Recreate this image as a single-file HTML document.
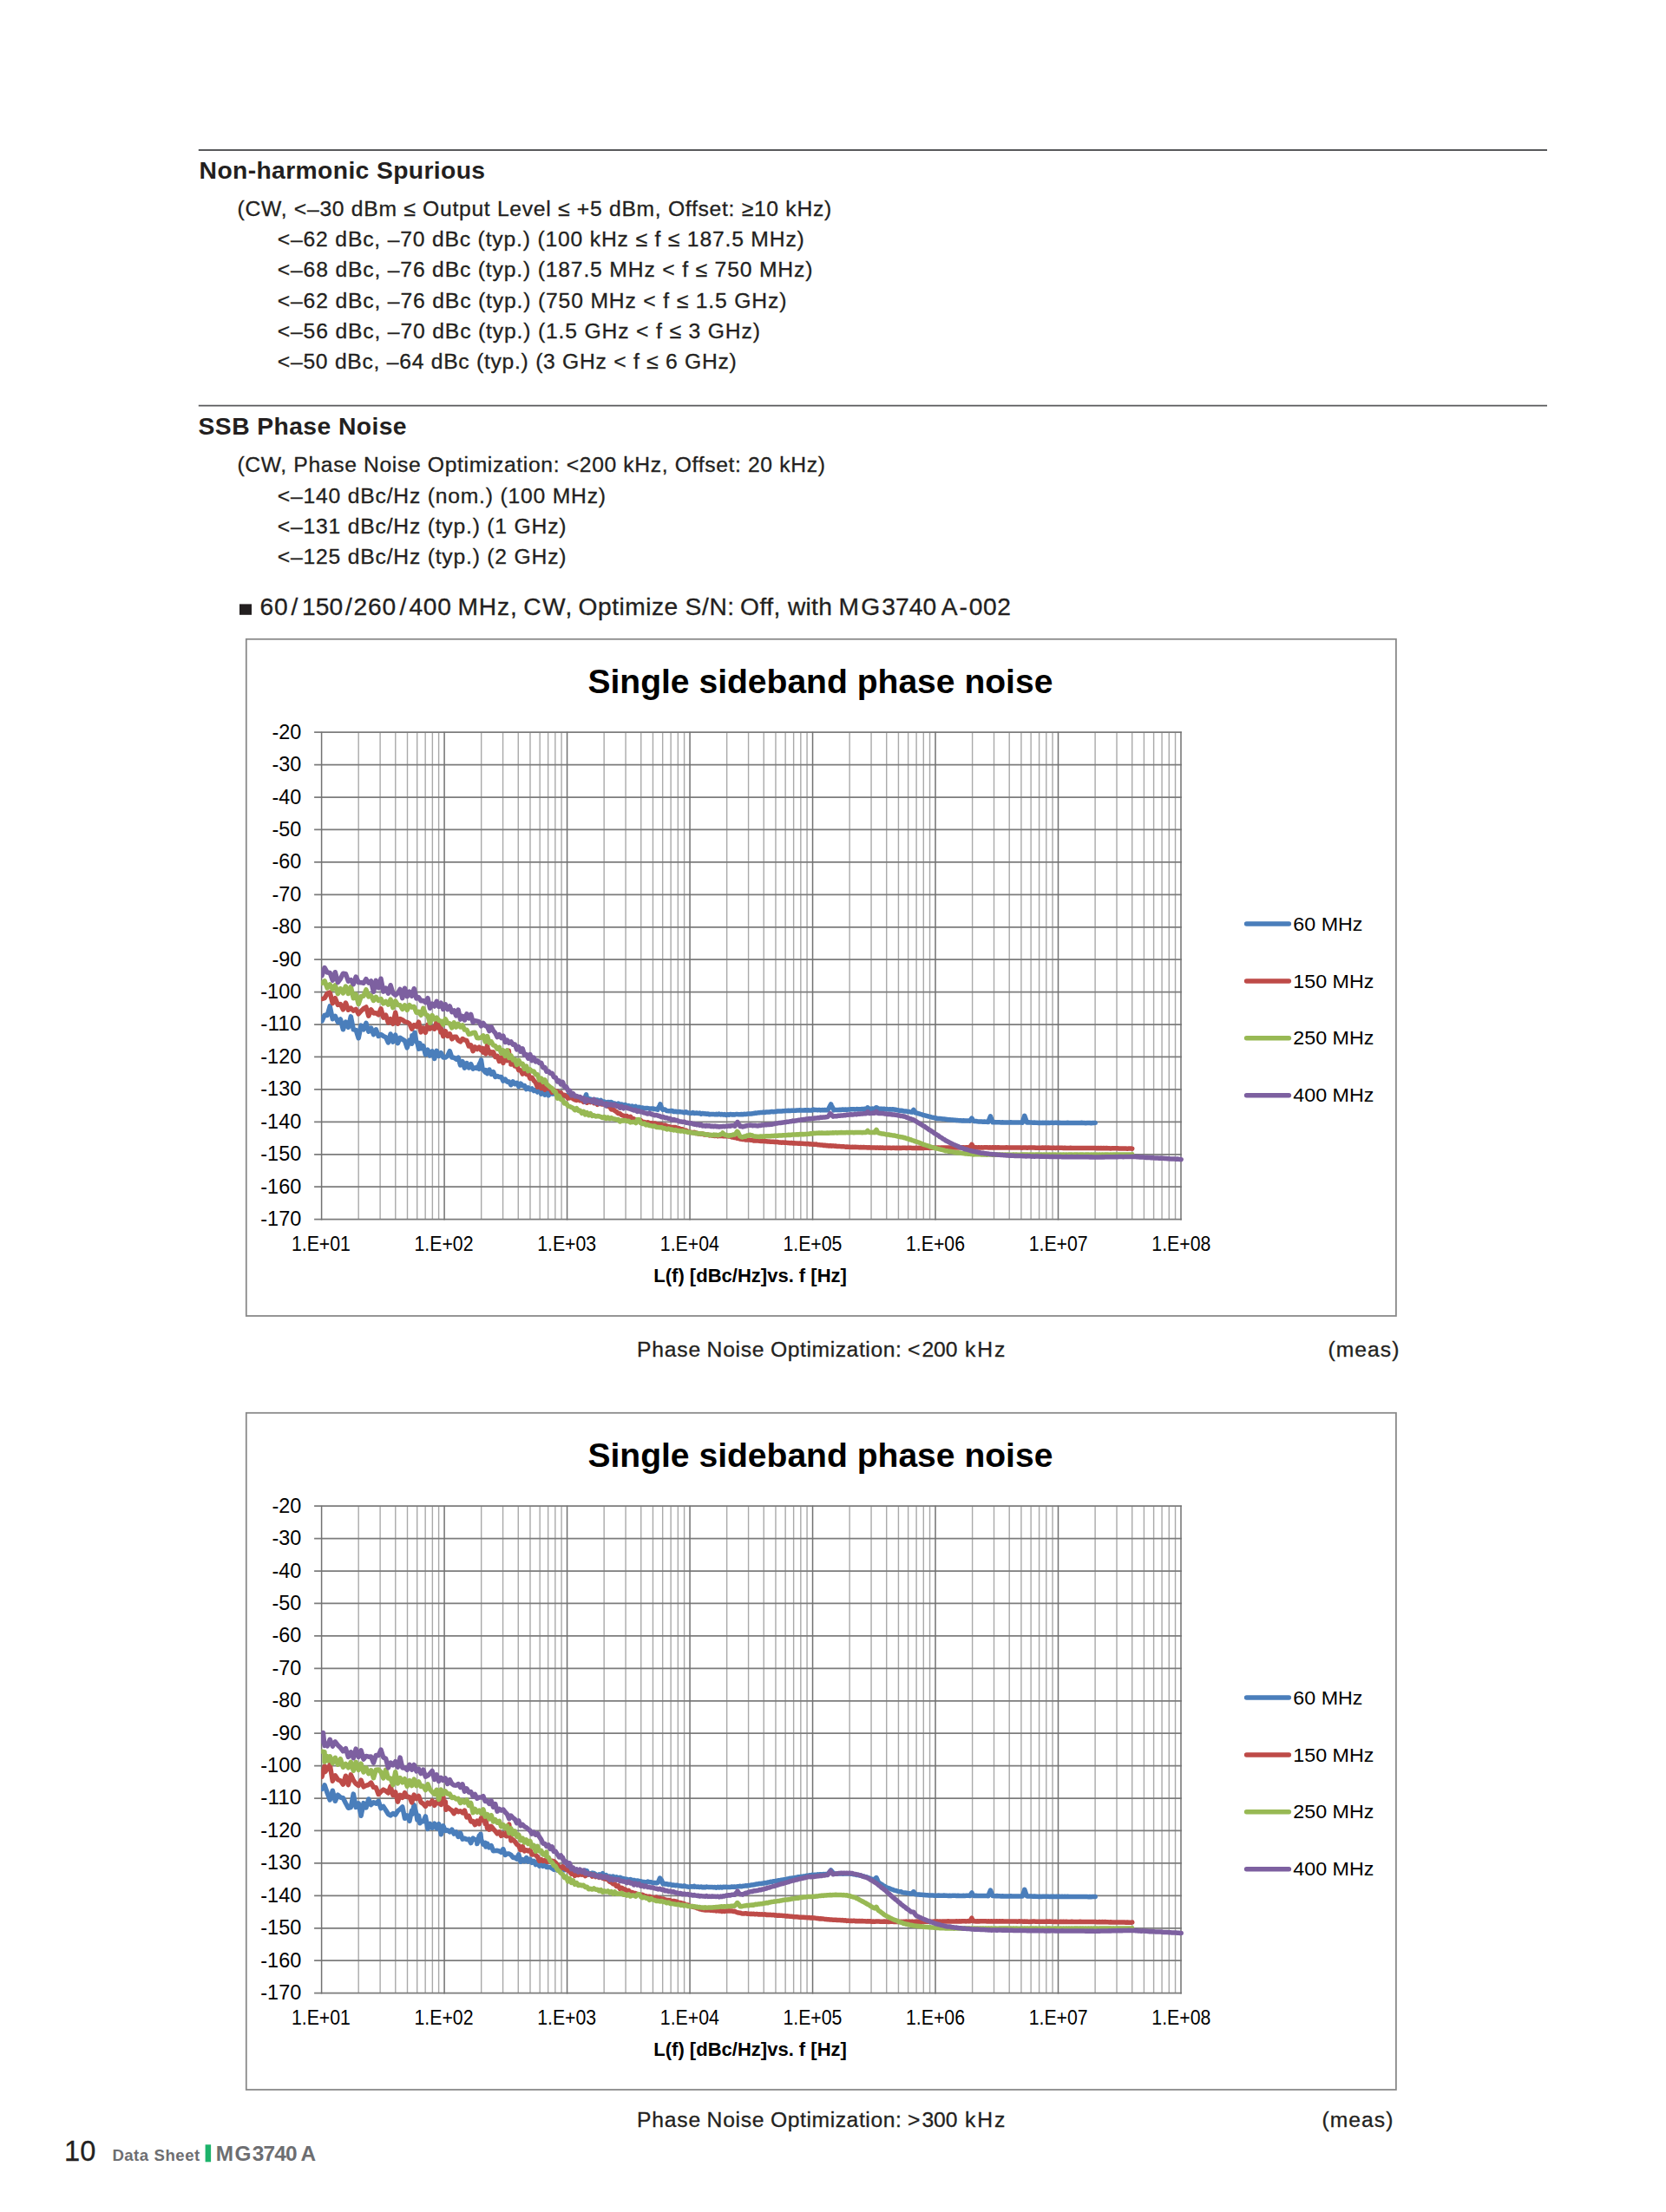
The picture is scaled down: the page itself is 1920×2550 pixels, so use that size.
<!DOCTYPE html>
<html lang="en"><head><meta charset="utf-8"><title>MG3740A Data Sheet - page 10</title>
<style>html,body{margin:0;padding:0;background:#fff}body{width:1920px;height:2550px;overflow:hidden}svg{display:block;font-family:"Liberation Sans",sans-serif;fill:#231f20}text{white-space:pre}.b{stroke:#231f20;stroke-width:.3px}</style></head><body>
<svg width="1920" height="2550" viewBox="0 0 1920 2550">
<rect width="1920" height="2550" fill="#fff"/>
<path d="M228.8,173H1783M228.8,467.6H1783" stroke="#58595b" stroke-width="1.9" fill="none"/>
<text id="h1" x="229.6" y="205.8" font-size="28.30" font-weight="bold" textLength="329.50" lengthAdjust="spacing">Non-harmonic Spurious</text>
<text id="s1l1" x="273.6" y="248.7" font-size="24.70" textLength="684.60" lengthAdjust="spacing" class="b">(CW, &lt;–30 dBm ≤ Output Level ≤ +5 dBm, Offset: ≥10 kHz)</text>
<text id="s1l2" x="319.8" y="284.0" font-size="24.70" textLength="607.00" lengthAdjust="spacing" class="b">&lt;–62 dBc, –70 dBc (typ.) (100 kHz ≤ f ≤ 187.5 MHz)</text>
<text id="s1l3" x="319.8" y="319.3" font-size="24.70" textLength="616.60" lengthAdjust="spacing" class="b">&lt;–68 dBc, –76 dBc (typ.) (187.5 MHz &lt; f ≤ 750 MHz)</text>
<text id="s1l4" x="319.8" y="354.5" font-size="24.70" textLength="586.60" lengthAdjust="spacing" class="b">&lt;–62 dBc, –76 dBc (typ.) (750 MHz &lt; f ≤ 1.5 GHz)</text>
<text id="s1l5" x="319.8" y="389.8" font-size="24.70" textLength="556.10" lengthAdjust="spacing" class="b">&lt;–56 dBc, –70 dBc (typ.) (1.5 GHz &lt; f ≤ 3 GHz)</text>
<text id="s1l6" x="319.8" y="425.1" font-size="24.70" textLength="529.00" lengthAdjust="spacing" class="b">&lt;–50 dBc, –64 dBc (typ.) (3 GHz &lt; f ≤ 6 GHz)</text>
<text id="h2" x="228.6" y="500.6" font-size="28.30" font-weight="bold" textLength="240.00" lengthAdjust="spacing">SSB Phase Noise</text>
<text id="s2l1" x="273.4" y="543.5" font-size="24.70" textLength="677.50" lengthAdjust="spacing" class="b">(CW, Phase Noise Optimization: &lt;200 kHz, Offset: 20 kHz)</text>
<text id="s2l2" x="319.8" y="579.7" font-size="24.70" textLength="378.20" lengthAdjust="spacing" class="b">&lt;–140 dBc/Hz (nom.) (100 MHz)</text>
<text id="s2l3" x="319.8" y="614.6" font-size="24.70" textLength="332.70" lengthAdjust="spacing" class="b">&lt;–131 dBc/Hz (typ.) (1 GHz)</text>
<text id="s2l4" x="319.8" y="649.5" font-size="24.70" textLength="332.70" lengthAdjust="spacing" class="b">&lt;–125 dBc/Hz (typ.) (2 GHz)</text>
<rect x="276.0" y="696.4" width="14.0" height="12.4" fill="#231f20"/>
<text id="bl" y="709.3" font-size="28.20" class="b"><tspan x="299.4" letter-spacing="1.00">60</tspan><tspan x="335.4">/</tspan><tspan x="347.9" letter-spacing="0.16">150</tspan><tspan x="398.0">/</tspan><tspan x="407.4" letter-spacing="0.84">260</tspan><tspan x="460.4">/</tspan><tspan x="471.4" letter-spacing="0.71">400 </tspan><tspan x="527.4" letter-spacing="0.86">MHz, </tspan><tspan x="603.3" letter-spacing="1.35">CW, </tspan><tspan x="666.6" letter-spacing="0.49">Optimize </tspan><tspan x="789.6" letter-spacing="0.59">S/N: </tspan><tspan x="853.0" letter-spacing="0.49">Off, </tspan><tspan x="907.9" letter-spacing="0.28">with </tspan><tspan x="966.4" letter-spacing="2.48">MG</tspan><tspan x="1016.3" letter-spacing="0.06">3740</tspan><tspan x="1084.7">A</tspan><tspan x="1105.4">-</tspan><tspan x="1116.7" letter-spacing="0.55">002</tspan></text>
<g id="chart1">
<rect x="283.8" y="736.8" width="1325.1" height="780.2" fill="#fff" stroke="#8a8a8a" stroke-width="1.8"/>
<path d="M413.19,844.2V1405.6M438.11,844.2V1405.6M455.78,844.2V1405.6M469.49,844.2V1405.6M480.70,844.2V1405.6M490.17,844.2V1405.6M498.37,844.2V1405.6M505.61,844.2V1405.6M554.68,844.2V1405.6M579.59,844.2V1405.6M597.27,844.2V1405.6M610.98,844.2V1405.6M622.18,844.2V1405.6M631.66,844.2V1405.6M639.86,844.2V1405.6M647.10,844.2V1405.6M696.16,844.2V1405.6M721.08,844.2V1405.6M738.75,844.2V1405.6M752.47,844.2V1405.6M763.67,844.2V1405.6M773.14,844.2V1405.6M781.35,844.2V1405.6M788.58,844.2V1405.6M837.65,844.2V1405.6M862.56,844.2V1405.6M880.24,844.2V1405.6M893.95,844.2V1405.6M905.15,844.2V1405.6M914.63,844.2V1405.6M922.83,844.2V1405.6M930.07,844.2V1405.6M979.13,844.2V1405.6M1004.05,844.2V1405.6M1021.73,844.2V1405.6M1035.44,844.2V1405.6M1046.64,844.2V1405.6M1056.11,844.2V1405.6M1064.32,844.2V1405.6M1071.55,844.2V1405.6M1120.62,844.2V1405.6M1145.53,844.2V1405.6M1163.21,844.2V1405.6M1176.92,844.2V1405.6M1188.13,844.2V1405.6M1197.60,844.2V1405.6M1205.80,844.2V1405.6M1213.04,844.2V1405.6M1262.11,844.2V1405.6M1287.02,844.2V1405.6M1304.70,844.2V1405.6M1318.41,844.2V1405.6M1329.61,844.2V1405.6M1339.08,844.2V1405.6M1347.29,844.2V1405.6M1354.53,844.2V1405.6" stroke="#a9a9a9" stroke-width="1.4" fill="none"/>
<path d="M362.1,844.20H1361.9M362.1,881.63H1361.9M362.1,919.05H1361.9M362.1,956.48H1361.9M362.1,993.91H1361.9M362.1,1031.33H1361.9M362.1,1068.76H1361.9M362.1,1106.19H1361.9M362.1,1143.61H1361.9M362.1,1181.04H1361.9M362.1,1218.47H1361.9M362.1,1255.89H1361.9M362.1,1293.32H1361.9M362.1,1330.75H1361.9M362.1,1368.17H1361.9M362.1,1405.60H1361.9" stroke="#7c7c7c" stroke-width="1.75" fill="none"/>
<path d="M370.60,843.8V1406.4M512.09,843.8V1406.4M653.57,843.8V1406.4M795.06,843.8V1406.4M936.54,843.8V1406.4M1078.03,843.8V1406.4M1219.51,843.8V1406.4M1361.00,843.8V1406.4" stroke="#727272" stroke-width="1.5" fill="none"/>
<clipPath id="clip1"><rect x="370.2" y="834.2" width="1010" height="580"/></clipPath>
<g clip-path="url(#clip1)">
<path d="M371.0,1177.0 374.1,1170.2 377.2,1170.6 380.2,1159.9 383.3,1174.7 386.3,1171.4 389.4,1178.4 392.4,1175.0 395.4,1186.8 398.4,1178.1 401.4,1184.3 404.3,1171.9 407.3,1186.9 410.2,1187.5 413.2,1196.8 416.1,1182.1 419.0,1186.8 421.9,1179.4 424.8,1189.1 427.6,1185.1 430.5,1192.6 433.3,1186.8 436.2,1194.5 439.0,1192.5 441.8,1194.4 444.6,1195.7 447.4,1202.0 450.1,1192.0 452.9,1201.2 455.7,1193.2 458.4,1202.7 461.1,1196.4 463.8,1198.1 466.5,1199.9 469.2,1207.8 471.9,1199.1 474.6,1203.1 474.9,1193.8 477.2,1197.1 477.9,1190.3 479.9,1201.2 480.9,1201.7 482.5,1209.3 483.9,1202.6 485.1,1208.8 487.8,1205.7 490.4,1215.7 493.0,1210.2 495.5,1217.0 498.1,1211.8 500.7,1220.4 503.2,1211.4 505.7,1217.4 508.3,1213.7 510.8,1218.9 513.3,1219.0 515.8,1217.2 518.3,1211.7 520.8,1219.1 523.2,1219.3 525.7,1221.1 528.1,1219.2 530.6,1227.9 533.0,1223.6 535.4,1231.2 537.9,1225.6 540.3,1230.9 542.7,1226.7 545.1,1232.2 547.4,1230.9 549.8,1231.5 549.9,1229.9 552.2,1232.3 552.3,1227.1 553.9,1224.1 554.5,1221.9 555.9,1231.2 556.9,1233.2 559.2,1236.0 559.9,1233.6 561.6,1237.6 563.9,1233.0 566.2,1238.4 568.5,1235.6 570.8,1241.4 573.1,1240.4 575.4,1241.6 577.7,1241.4 579.9,1246.1 582.2,1244.1 584.5,1247.2 586.7,1247.1 588.9,1250.7 591.2,1246.8 593.4,1249.7 595.6,1248.3 597.8,1252.6 600.0,1249.1 602.2,1251.8 604.4,1251.4 606.6,1255.6 608.7,1253.8 610.9,1255.9 613.0,1254.9 615.2,1257.6 617.3,1256.5 619.4,1259.0 621.6,1255.0 623.7,1261.2 625.8,1257.7 627.9,1262.2 630.0,1258.3 632.1,1262.8 634.1,1260.1 636.2,1260.9 638.3,1261.1 640.3,1261.4 642.4,1263.3 644.4,1264.3 646.5,1260.9 648.5,1262.8 650.5,1263.7 652.5,1263.2 654.5,1262.4 656.5,1264.2 658.5,1264.1 660.5,1264.8 662.5,1265.1 664.5,1266.6 666.5,1266.3 668.5,1266.1 670.5,1266.8 672.5,1267.3 673.0,1266.1 674.5,1264.5 675.6,1261.8 676.5,1266.8 678.0,1266.3 678.5,1267.7 680.5,1267.1 682.5,1268.5 684.5,1267.5 686.5,1268.1 688.5,1267.9 690.5,1270.5 692.5,1268.4 694.5,1270.5 696.5,1270.0 698.5,1271.5 700.5,1270.5 702.5,1270.8 704.5,1270.6 706.5,1272.0 708.5,1272.1 710.5,1273.3 712.5,1272.0 714.5,1273.6 716.5,1273.0 718.5,1274.6 720.5,1273.5 722.5,1275.0 724.5,1274.6 726.5,1275.7 728.5,1275.0 730.5,1276.4 732.5,1275.3 734.5,1277.4 736.5,1276.2 738.5,1277.3 740.5,1276.9 742.5,1277.8 744.5,1277.5 746.5,1277.5 748.5,1278.2 750.5,1277.9 752.5,1278.0 754.5,1278.6 756.5,1278.7 757.9,1279.3 758.5,1277.5 760.5,1274.3 760.9,1272.8 762.5,1277.1 763.9,1279.4 764.5,1279.1 766.5,1279.1 768.5,1280.6 770.5,1280.7 772.5,1280.8 774.5,1280.4 776.5,1281.5 778.5,1281.3 780.5,1281.7 782.5,1281.5 784.5,1281.8 786.5,1282.0 788.5,1282.8 790.5,1281.8 792.5,1282.7 794.5,1283.1 796.5,1283.3 798.5,1282.6 800.0,1283.5 800.5,1283.3 801.6,1283.3 803.2,1283.0 804.8,1283.5 806.4,1283.1 808.0,1284.2 809.6,1283.5 811.2,1283.9 812.8,1283.8 814.4,1284.3 816.0,1283.9 817.6,1284.8 819.2,1284.4 820.8,1284.4 822.4,1284.4 824.0,1284.8 825.6,1284.3 827.2,1284.8 828.8,1284.1 830.4,1284.9 832.0,1284.4 833.6,1285.1 835.2,1284.5 836.8,1285.5 838.4,1284.7 840.0,1285.2 841.6,1284.5 843.2,1284.9 844.8,1284.7 846.4,1285.0 848.0,1284.6 849.6,1284.6 851.2,1284.7 852.8,1284.7 854.4,1284.5 856.0,1284.8 857.6,1284.3 859.2,1284.6 860.8,1284.3 862.4,1284.1 864.0,1284.0 865.6,1283.9 867.2,1283.7 868.8,1283.6 870.4,1283.1 872.0,1283.2 873.6,1282.8 875.2,1282.7 876.8,1282.4 878.4,1282.5 880.0,1282.1 881.6,1282.5 883.2,1281.9 884.8,1282.1 886.4,1282.0 888.0,1281.7 889.6,1281.4 891.2,1281.7 892.8,1281.5 894.4,1281.4 896.0,1281.0 897.6,1281.1 899.2,1280.9 900.8,1281.1 902.4,1280.7 904.0,1280.8 905.6,1280.5 907.2,1280.6 908.8,1280.3 910.4,1280.6 912.0,1280.3 913.6,1280.3 915.2,1280.3 916.8,1280.3 918.4,1280.0 920.0,1280.1 921.6,1279.8 923.2,1280.1 924.8,1279.9 926.4,1280.0 928.0,1279.7 929.6,1280.0 931.2,1279.8 932.8,1279.9 934.4,1280.0 936.0,1279.9 936.4,1279.9 936.8,1279.4 937.6,1279.1 939.2,1279.5 940.8,1279.6 942.4,1279.7 944.0,1279.4 945.6,1279.9 947.2,1279.6 948.8,1279.7 950.4,1279.5 952.0,1279.8 953.6,1279.8 954.0,1279.8 955.2,1277.6 956.8,1274.6 957.6,1272.9 958.4,1274.8 960.0,1277.6 961.0,1279.8 961.6,1279.4 963.2,1279.5 964.8,1279.4 966.4,1279.5 968.0,1279.2 969.6,1279.4 971.2,1279.0 972.8,1279.2 974.4,1279.1 976.0,1279.2 977.6,1279.0 979.2,1278.9 980.8,1278.7 982.4,1278.8 984.0,1278.7 985.6,1278.9 987.2,1278.6 988.8,1278.7 990.4,1278.7 992.0,1278.7 993.6,1278.4 995.2,1278.6 996.8,1278.2 998.0,1278.3 998.4,1278.0 1000.0,1277.0 1000.0,1276.8 1001.6,1278.1 1002.0,1278.4 1003.2,1278.4 1004.8,1278.1 1006.4,1278.3 1008.0,1278.2 1008.0,1278.3 1009.6,1276.7 1010.0,1276.7 1011.2,1277.4 1012.0,1278.3 1012.8,1278.2 1014.4,1278.2 1016.0,1278.3 1017.6,1278.5 1019.2,1278.3 1020.8,1278.8 1022.4,1278.6 1024.0,1278.9 1025.6,1278.8 1027.2,1279.0 1028.8,1278.8 1030.4,1279.0 1032.0,1279.2 1033.6,1279.7 1035.2,1279.8 1036.8,1280.3 1038.4,1280.2 1040.0,1280.5 1041.6,1280.9 1043.2,1281.1 1044.8,1281.1 1046.4,1281.5 1048.0,1281.5 1049.6,1282.0 1050.9,1281.8 1051.2,1282.0 1052.8,1279.5 1052.9,1279.4 1054.4,1281.7 1054.9,1282.8 1056.0,1282.9 1057.6,1283.5 1059.2,1283.9 1060.8,1284.4 1062.4,1284.8 1064.0,1285.6 1065.6,1285.7 1067.2,1286.3 1068.8,1286.6 1070.4,1287.1 1072.0,1287.4 1073.6,1288.0 1075.2,1288.2 1076.8,1288.7 1078.4,1288.8 1080.0,1289.4 1081.6,1289.4 1083.2,1289.5 1084.8,1289.7 1086.4,1290.1 1088.0,1290.1 1089.6,1290.3 1091.2,1290.5 1092.8,1290.8 1094.4,1290.7 1096.0,1291.0 1097.6,1290.9 1099.2,1291.2 1100.8,1291.3 1102.4,1291.4 1104.0,1291.6 1105.6,1291.7 1107.2,1291.7 1108.8,1291.9 1110.4,1291.8 1112.0,1292.1 1113.6,1292.0 1115.2,1292.1 1116.8,1292.1 1117.9,1292.2 1118.4,1291.1 1119.9,1289.1 1120.0,1289.2 1121.6,1292.0 1121.9,1292.1 1123.2,1292.6 1124.8,1292.6 1126.4,1292.8 1128.0,1292.9 1129.6,1293.0 1131.2,1293.0 1132.8,1293.2 1134.4,1293.1 1136.0,1293.3 1137.6,1293.2 1138.9,1293.5 1139.2,1292.4 1140.8,1288.7 1141.5,1286.8 1142.4,1289.6 1143.9,1293.5 1144.0,1293.7 1145.6,1293.5 1147.2,1293.7 1148.8,1293.7 1150.4,1293.8 1152.0,1293.8 1153.6,1293.9 1155.2,1293.8 1156.8,1293.9 1158.4,1293.9 1160.0,1294.0 1161.6,1293.9 1163.2,1293.9 1164.8,1293.8 1166.4,1294.0 1168.0,1293.9 1169.6,1294.0 1171.2,1294.0 1172.8,1294.1 1174.4,1293.9 1176.0,1294.0 1177.6,1293.8 1178.3,1294.1 1179.2,1291.0 1180.8,1286.5 1180.8,1286.3 1182.4,1291.0 1183.4,1294.0 1184.0,1294.0 1185.6,1293.8 1187.2,1293.9 1188.8,1294.0 1190.4,1294.2 1192.0,1294.1 1193.6,1294.2 1195.2,1294.2 1196.8,1294.4 1198.4,1294.2 1200.0,1294.4 1201.6,1294.2 1203.2,1294.6 1204.8,1294.2 1206.4,1294.4 1208.0,1294.3 1209.6,1294.4 1211.2,1294.3 1212.8,1294.3 1214.4,1294.4 1216.0,1294.3 1217.6,1294.3 1219.2,1294.5 1220.8,1294.3 1222.4,1294.5 1224.0,1294.4 1225.6,1294.4 1227.2,1294.4 1228.8,1294.5 1230.4,1294.3 1232.0,1294.5 1233.6,1294.4 1235.2,1294.4 1236.8,1294.4 1238.4,1294.6 1240.0,1294.4 1241.6,1294.6 1243.2,1294.5 1244.8,1294.4 1246.4,1294.3 1248.0,1294.5 1249.6,1294.5 1251.2,1294.7 1252.8,1294.5 1254.4,1294.5 1256.0,1294.5 1257.6,1294.8 1259.2,1294.4 1260.8,1294.6 1262.2,1294.4" stroke="#4a7ebb" stroke-width="5.5" fill="none" stroke-linejoin="round" stroke-linecap="round"/>
<path d="M371.0,1151.5 374.1,1150.7 377.2,1145.2 380.2,1144.0 383.3,1156.6 386.3,1150.7 389.4,1158.4 392.4,1157.6 395.4,1163.8 398.4,1156.0 401.4,1164.2 404.3,1162.1 407.3,1165.1 410.2,1163.5 413.2,1168.8 416.1,1165.5 419.0,1162.7 421.9,1161.0 424.8,1171.2 427.6,1163.8 430.5,1167.9 433.3,1167.7 436.2,1169.9 439.0,1162.8 441.8,1173.1 444.6,1170.2 447.4,1178.9 450.1,1174.7 452.9,1180.3 455.7,1167.3 458.4,1180.3 461.1,1174.5 463.8,1175.7 466.5,1177.9 469.2,1178.4 471.9,1180.0 474.6,1186.2 477.2,1181.6 479.9,1183.4 482.5,1178.1 485.1,1189.9 487.8,1185.0 490.4,1190.3 493.0,1181.4 495.5,1186.0 498.1,1184.4 500.7,1186.2 503.2,1178.0 504.9,1184.9 505.7,1177.9 507.9,1190.0 508.3,1185.6 510.8,1194.6 513.3,1188.7 515.8,1194.4 518.3,1191.8 520.8,1197.8 523.2,1195.2 525.7,1195.3 528.1,1199.4 530.6,1200.8 533.0,1197.5 535.4,1198.8 537.9,1199.6 540.3,1206.0 542.7,1204.8 545.1,1211.7 547.4,1206.9 549.8,1209.5 552.2,1207.2 554.5,1210.6 555.9,1208.5 556.9,1213.1 559.2,1208.8 559.9,1214.9 561.6,1204.6 561.9,1208.3 563.9,1212.9 564.9,1214.7 566.2,1212.9 567.9,1215.2 568.5,1212.9 570.8,1218.5 573.1,1217.3 575.4,1223.5 577.7,1218.9 579.9,1225.4 579.9,1220.6 582.2,1222.7 583.9,1219.6 584.5,1222.8 586.3,1211.2 586.7,1215.7 588.9,1222.6 588.9,1227.0 591.2,1225.3 593.4,1229.0 595.6,1228.2 597.8,1233.7 600.0,1233.7 602.2,1238.1 604.4,1233.5 606.6,1238.4 608.7,1237.7 610.9,1243.1 613.0,1242.2 615.2,1245.6 617.3,1248.0 619.4,1253.1 621.6,1248.8 623.7,1254.7 625.8,1251.1 627.9,1256.1 630.0,1253.3 632.1,1255.0 634.1,1255.0 636.2,1259.3 638.3,1256.9 640.3,1258.7 642.4,1258.2 644.4,1262.4 646.5,1259.7 648.5,1263.5 650.5,1262.3 652.5,1263.5 654.5,1265.9 656.5,1265.7 658.5,1265.0 660.5,1266.8 662.5,1267.8 664.5,1268.4 666.5,1267.2 668.5,1268.7 670.5,1268.2 672.5,1270.4 674.5,1269.2 676.5,1271.2 678.5,1268.7 680.5,1270.6 682.5,1269.0 684.5,1271.7 686.5,1269.3 688.5,1273.3 690.5,1271.1 692.5,1272.7 694.5,1273.1 696.5,1272.9 698.5,1272.6 700.5,1275.3 702.5,1275.5 704.5,1279.0 706.5,1278.8 708.5,1280.5 710.5,1281.7 712.5,1283.6 714.5,1283.8 716.5,1285.5 718.5,1286.2 720.5,1286.7 722.5,1286.5 724.5,1288.8 726.5,1287.3 728.5,1289.9 730.5,1289.7 732.5,1291.5 734.5,1291.0 736.5,1292.3 738.5,1291.6 740.5,1293.7 742.5,1293.5 744.5,1294.6 746.5,1293.7 748.5,1294.7 750.5,1294.7 752.5,1295.2 754.5,1294.9 756.5,1295.6 758.5,1296.0 760.5,1296.6 762.5,1296.3 764.5,1298.0 766.5,1297.0 768.5,1298.2 770.5,1298.6 772.5,1299.2 774.5,1299.4 776.5,1299.6 778.5,1299.5 780.5,1301.0 782.5,1300.7 784.5,1301.9 786.5,1301.7 788.5,1303.5 790.5,1303.1 792.5,1304.3 794.5,1304.7 796.5,1305.6 798.5,1305.4 800.0,1306.1 800.5,1305.3 801.6,1306.5 803.2,1306.2 804.8,1306.9 806.4,1306.9 808.0,1307.4 809.6,1307.0 811.2,1307.9 812.8,1307.8 814.4,1308.2 816.0,1307.9 817.6,1309.0 819.2,1308.5 820.8,1309.2 822.4,1309.3 824.0,1309.5 825.6,1308.9 827.2,1309.7 828.8,1309.1 830.4,1309.6 832.0,1309.4 833.6,1309.7 835.2,1309.5 836.8,1309.8 838.4,1309.7 840.0,1310.1 841.6,1310.1 843.2,1310.9 844.8,1310.9 846.4,1311.6 848.0,1311.5 849.6,1312.3 851.2,1312.3 852.8,1313.1 854.4,1313.2 856.0,1313.6 857.6,1313.2 859.2,1313.9 860.8,1313.9 862.4,1314.1 864.0,1314.1 865.6,1314.4 867.2,1314.1 868.8,1315.1 870.4,1314.7 872.0,1314.9 873.6,1314.9 875.2,1315.3 876.8,1315.4 878.4,1315.5 880.0,1315.4 881.6,1315.8 883.2,1315.7 884.8,1316.0 886.4,1316.0 888.0,1316.2 889.6,1316.3 891.2,1316.3 892.8,1316.5 894.4,1316.6 896.0,1316.5 897.6,1316.9 899.2,1316.9 900.8,1317.2 902.4,1316.9 904.0,1317.3 905.6,1317.1 907.2,1317.4 908.8,1317.5 910.4,1317.7 912.0,1317.5 913.6,1317.9 915.2,1317.7 916.8,1317.9 918.4,1317.9 920.0,1318.2 921.6,1318.0 923.2,1318.2 924.8,1318.3 926.4,1318.5 928.0,1318.5 929.6,1318.7 931.2,1318.4 932.8,1319.0 934.4,1318.8 936.0,1319.2 937.6,1319.1 939.2,1319.2 940.8,1319.1 942.4,1319.7 944.0,1319.7 945.6,1319.9 947.2,1319.9 948.8,1320.4 950.4,1320.2 952.0,1320.7 953.6,1320.6 955.2,1321.0 956.8,1320.7 958.4,1321.2 960.0,1320.8 961.6,1321.2 963.2,1321.1 964.8,1321.6 966.4,1321.4 968.0,1321.6 969.6,1321.7 971.2,1321.8 972.8,1321.8 974.4,1322.2 976.0,1322.1 977.6,1322.3 979.2,1322.3 980.8,1322.4 982.4,1322.3 984.0,1322.5 985.6,1322.3 987.2,1322.6 988.8,1322.5 990.4,1322.7 992.0,1322.6 993.6,1322.7 995.2,1322.6 996.8,1322.8 998.4,1322.7 1000.0,1323.0 1001.6,1322.7 1003.2,1323.1 1004.8,1322.9 1006.4,1323.1 1008.0,1322.9 1009.6,1323.2 1011.2,1322.9 1012.8,1323.3 1014.4,1323.1 1016.0,1323.3 1017.6,1323.1 1019.2,1323.5 1020.8,1323.2 1022.4,1323.3 1024.0,1323.2 1025.6,1323.2 1027.2,1323.4 1028.8,1323.3 1030.4,1323.3 1032.0,1323.5 1033.6,1323.2 1035.2,1323.4 1036.8,1323.3 1038.4,1323.4 1040.0,1323.2 1041.6,1323.3 1043.2,1323.2 1044.8,1323.5 1046.4,1323.3 1048.0,1323.2 1049.6,1323.3 1051.2,1323.4 1052.8,1323.4 1054.4,1323.4 1056.0,1323.3 1057.6,1323.4 1059.2,1323.2 1060.8,1323.4 1062.4,1323.2 1064.0,1323.4 1065.6,1323.3 1067.2,1323.3 1068.8,1323.1 1070.4,1323.4 1072.0,1323.1 1073.6,1323.3 1075.2,1323.1 1076.8,1323.2 1078.4,1323.2 1080.0,1323.1 1081.6,1323.0 1083.2,1323.2 1084.8,1323.0 1086.4,1323.0 1088.0,1323.1 1089.6,1323.1 1091.2,1322.9 1092.8,1323.1 1094.4,1322.9 1096.0,1323.1 1097.6,1322.9 1099.2,1323.0 1100.8,1322.8 1102.4,1322.9 1104.0,1322.8 1105.6,1322.9 1107.2,1322.7 1108.8,1322.7 1110.4,1322.8 1112.0,1322.9 1113.6,1322.7 1115.2,1322.8 1116.8,1322.6 1117.9,1322.9 1118.4,1321.8 1119.9,1319.4 1120.0,1319.5 1121.6,1322.2 1121.9,1322.6 1123.2,1322.8 1124.8,1322.7 1126.4,1322.9 1128.0,1322.7 1129.6,1322.9 1131.2,1322.8 1132.8,1322.9 1134.4,1322.8 1136.0,1322.8 1137.6,1322.7 1139.2,1322.9 1140.8,1322.8 1142.4,1322.9 1144.0,1322.8 1145.6,1323.1 1147.2,1322.8 1148.8,1323.0 1150.4,1322.7 1152.0,1323.0 1153.6,1322.9 1155.2,1322.9 1156.8,1322.9 1158.4,1323.0 1160.0,1322.8 1161.6,1322.9 1163.2,1323.0 1164.8,1323.1 1166.4,1323.0 1168.0,1323.1 1169.6,1323.0 1171.2,1323.1 1172.8,1323.0 1174.4,1323.1 1176.0,1323.0 1177.6,1323.2 1179.2,1323.0 1180.8,1323.1 1182.4,1323.0 1184.0,1323.2 1185.6,1322.9 1187.2,1323.1 1188.8,1322.9 1190.4,1323.1 1192.0,1323.0 1193.6,1323.3 1195.2,1323.2 1196.8,1323.3 1198.4,1323.2 1200.0,1323.3 1201.6,1323.1 1203.2,1323.3 1204.8,1323.1 1206.4,1323.2 1208.0,1323.1 1209.6,1323.3 1211.2,1323.2 1212.8,1323.4 1214.4,1323.1 1216.0,1323.4 1217.6,1323.2 1219.2,1323.3 1220.8,1323.3 1222.4,1323.3 1224.0,1323.3 1225.6,1323.5 1227.2,1323.3 1228.8,1323.4 1230.4,1323.4 1232.0,1323.6 1233.6,1323.3 1235.2,1323.5 1236.8,1323.4 1238.4,1323.5 1240.0,1323.4 1241.6,1323.5 1243.2,1323.4 1244.8,1323.4 1246.4,1323.5 1248.0,1323.6 1249.6,1323.4 1251.2,1323.5 1252.8,1323.4 1254.4,1323.5 1256.0,1323.4 1257.6,1323.6 1259.2,1323.5 1260.8,1323.6 1262.4,1323.4 1264.0,1323.7 1265.6,1323.6 1267.2,1323.8 1268.8,1323.5 1270.4,1323.8 1272.0,1323.6 1273.6,1323.8 1275.2,1323.6 1276.8,1323.8 1278.4,1323.7 1280.0,1323.9 1281.6,1323.8 1283.2,1323.8 1284.8,1323.8 1286.4,1323.8 1288.0,1323.8 1289.6,1324.0 1291.2,1323.9 1292.8,1323.9 1294.4,1323.9 1296.0,1324.1 1297.6,1324.1 1299.2,1324.2 1300.8,1324.1 1302.4,1324.1 1304.0,1324.1 1304.8,1324.2" stroke="#be4b48" stroke-width="5.5" fill="none" stroke-linejoin="round" stroke-linecap="round"/>
<path d="M371.0,1133.3 374.1,1130.8 377.2,1139.0 380.2,1134.8 383.3,1140.3 386.3,1135.9 389.4,1145.6 392.4,1139.7 395.4,1144.9 398.4,1137.1 401.4,1145.5 404.3,1137.5 407.3,1150.7 410.2,1146.2 413.2,1157.5 416.1,1148.8 419.0,1148.2 421.9,1140.9 424.8,1148.8 427.6,1147.6 430.5,1153.5 433.3,1149.3 436.2,1153.4 439.0,1151.6 441.8,1156.9 444.6,1154.5 447.4,1158.1 450.1,1152.2 452.9,1161.7 455.7,1154.0 458.4,1158.5 461.1,1158.8 463.8,1163.4 466.5,1158.8 469.2,1164.3 471.9,1158.7 474.6,1161.2 477.2,1160.5 479.9,1167.3 482.5,1166.4 485.1,1170.3 487.8,1162.3 490.4,1169.3 493.0,1170.7 495.5,1179.1 498.1,1170.6 500.7,1175.0 503.2,1173.2 505.7,1176.3 508.3,1177.1 510.8,1181.0 513.3,1174.7 515.8,1179.3 518.3,1180.0 520.8,1184.9 523.2,1178.9 525.7,1184.1 528.1,1180.3 530.6,1183.9 533.0,1181.8 535.4,1187.1 537.9,1187.3 540.3,1192.2 542.7,1191.8 545.1,1190.4 547.4,1190.3 549.8,1196.4 552.2,1196.7 554.5,1196.1 556.9,1193.9 559.2,1201.0 561.6,1194.5 563.9,1202.3 566.2,1201.0 568.5,1204.9 570.8,1205.7 573.1,1209.2 575.4,1207.5 577.7,1214.1 579.9,1210.9 582.2,1217.4 584.5,1210.9 586.7,1219.5 588.9,1216.8 591.2,1221.9 593.4,1221.2 595.6,1227.5 597.8,1222.3 600.0,1226.7 602.2,1226.3 604.4,1232.2 606.6,1229.1 608.7,1234.7 610.9,1232.9 613.0,1234.9 615.2,1235.0 617.3,1238.7 619.4,1238.8 621.6,1245.0 623.7,1243.1 625.8,1247.3 627.9,1244.8 630.0,1249.9 632.1,1251.5 634.1,1253.3 636.2,1254.6 638.3,1258.2 640.3,1258.7 642.4,1266.1 644.4,1263.4 646.5,1267.6 648.5,1267.9 650.5,1271.9 652.5,1271.9 654.5,1274.8 656.5,1275.5 658.5,1276.4 660.5,1277.4 662.5,1279.6 664.5,1277.7 666.5,1280.4 668.5,1280.2 670.5,1283.3 672.5,1281.3 674.5,1284.8 676.5,1282.7 678.5,1285.7 680.5,1283.7 682.5,1286.5 684.5,1285.7 686.5,1287.0 688.5,1286.6 690.5,1286.8 692.5,1287.5 694.5,1288.6 696.5,1287.5 698.5,1289.5 700.5,1288.0 702.5,1289.8 704.5,1288.6 706.5,1289.6 708.5,1290.0 710.5,1290.7 712.5,1290.6 714.5,1293.0 716.5,1291.6 718.5,1292.0 720.5,1291.5 722.5,1292.4 724.5,1292.2 726.5,1293.9 728.5,1293.6 730.5,1293.6 732.5,1293.1 732.9,1294.7 734.5,1290.7 735.9,1291.5 736.5,1290.7 738.5,1294.7 738.9,1294.8 740.5,1295.5 742.5,1295.1 744.5,1296.9 746.5,1296.4 748.5,1297.6 750.5,1297.8 752.5,1298.3 754.5,1298.1 756.5,1299.4 758.5,1299.5 760.5,1299.8 762.5,1299.7 764.5,1300.8 766.5,1300.8 768.5,1301.9 770.5,1301.1 772.5,1302.2 774.5,1302.0 776.5,1302.9 778.5,1302.6 780.5,1303.5 782.5,1303.4 784.5,1304.1 786.5,1303.6 788.5,1304.5 790.5,1304.5 792.5,1305.3 794.5,1305.0 796.5,1305.7 798.5,1305.9 800.0,1306.3 800.5,1306.0 801.6,1306.6 803.2,1306.3 804.8,1307.1 806.4,1306.7 808.0,1307.1 809.6,1307.1 811.2,1307.3 812.8,1307.6 814.4,1308.3 816.0,1308.1 817.6,1308.2 819.2,1308.4 820.8,1308.9 822.4,1308.1 824.0,1308.7 825.6,1308.2 827.2,1308.8 828.8,1308.3 829.9,1308.3 830.4,1307.7 832.0,1307.3 832.9,1306.0 833.6,1306.8 835.2,1308.2 835.9,1308.6 836.8,1308.3 838.4,1309.1 839.9,1308.9 840.0,1309.4 841.6,1308.7 843.2,1308.7 844.8,1308.1 846.4,1308.1 846.9,1307.9 848.0,1306.8 849.6,1304.4 849.9,1304.5 851.2,1306.7 852.8,1309.7 852.9,1309.8 854.4,1310.8 855.9,1310.7 856.0,1310.9 857.6,1310.1 859.2,1310.3 860.8,1309.1 862.4,1309.3 864.0,1308.3 865.6,1308.6 867.2,1309.0 868.8,1310.0 870.4,1310.0 872.0,1310.3 873.6,1310.2 875.2,1310.5 876.8,1309.9 878.4,1310.2 880.0,1309.9 881.6,1310.2 883.2,1309.7 884.8,1309.8 886.4,1309.7 888.0,1309.7 889.6,1309.5 891.2,1309.6 892.8,1309.2 894.4,1309.3 896.0,1309.3 897.6,1309.1 899.2,1308.9 900.8,1309.1 902.4,1308.7 904.0,1308.8 905.6,1308.7 907.2,1308.6 908.8,1308.3 910.4,1308.5 912.0,1308.2 913.6,1308.1 915.2,1308.0 916.8,1307.9 918.4,1307.8 920.0,1308.1 921.6,1307.5 923.2,1307.8 924.8,1307.5 926.4,1307.7 928.0,1307.4 929.6,1307.5 931.2,1307.2 932.8,1307.2 934.4,1306.7 936.0,1307.0 937.6,1306.3 939.2,1306.6 940.8,1306.3 942.4,1306.3 944.0,1306.1 945.6,1306.3 947.2,1306.0 948.8,1306.2 950.4,1306.2 952.0,1306.3 953.6,1306.0 955.2,1306.2 956.8,1305.9 958.4,1306.1 960.0,1305.8 961.6,1305.9 963.2,1305.6 964.8,1306.0 966.4,1305.8 968.0,1305.8 969.6,1305.6 971.2,1305.8 972.8,1305.7 974.4,1305.7 976.0,1305.4 977.6,1305.7 979.2,1305.5 980.8,1305.5 982.4,1305.4 984.0,1305.8 985.6,1305.5 987.2,1305.6 988.8,1305.5 990.4,1305.6 992.0,1305.4 993.6,1305.7 995.2,1305.4 996.8,1305.6 998.0,1305.5 998.4,1305.2 1000.0,1303.5 1000.0,1303.6 1001.6,1305.2 1002.0,1305.6 1003.2,1305.4 1004.8,1305.6 1006.4,1305.3 1008.0,1305.6 1008.0,1305.2 1009.6,1303.0 1010.0,1302.3 1011.2,1304.7 1012.0,1305.7 1012.8,1306.1 1014.4,1306.5 1016.0,1306.9 1017.6,1307.1 1019.2,1307.3 1020.8,1307.7 1022.4,1308.0 1024.0,1307.9 1025.6,1308.4 1027.2,1308.6 1028.8,1308.9 1030.4,1308.9 1032.0,1309.4 1033.6,1309.7 1035.2,1310.2 1036.8,1310.4 1038.4,1310.8 1040.0,1310.9 1041.6,1311.5 1043.2,1311.8 1044.8,1312.5 1046.4,1312.7 1048.0,1313.7 1049.6,1313.8 1051.2,1314.6 1052.8,1314.9 1054.4,1315.7 1056.0,1316.2 1057.6,1316.7 1059.2,1317.1 1060.8,1317.9 1062.4,1318.5 1064.0,1319.3 1065.6,1319.7 1067.2,1320.3 1068.8,1320.7 1070.4,1321.3 1072.0,1321.9 1073.6,1322.4 1075.2,1322.8 1076.8,1323.5 1078.4,1323.5 1080.0,1324.1 1081.6,1324.4 1083.2,1324.9 1084.8,1325.2 1086.4,1325.6 1088.0,1326.0 1089.6,1326.7 1091.2,1326.7 1092.8,1327.2 1094.4,1327.2 1096.0,1327.6 1097.6,1327.8 1099.2,1328.2 1100.8,1328.5 1102.4,1328.9 1104.0,1328.8 1105.6,1329.1 1107.2,1329.0 1108.8,1329.5 1110.4,1329.5 1112.0,1329.9 1113.6,1329.8 1115.2,1330.2 1116.8,1330.0 1118.4,1330.4 1120.0,1330.4 1121.6,1330.9 1123.2,1330.7 1124.8,1330.8 1126.4,1330.7 1128.0,1330.8 1129.6,1330.7 1131.2,1331.1 1132.8,1331.0 1134.4,1331.1 1136.0,1330.9 1137.6,1331.2 1139.2,1330.8 1140.8,1331.1 1142.4,1331.0 1144.0,1331.2 1145.6,1331.0 1147.2,1331.2 1148.8,1331.0 1150.4,1331.2 1152.0,1331.0 1153.6,1331.2 1155.2,1331.1 1156.8,1331.2 1158.4,1331.0 1160.0,1331.3 1161.6,1331.0 1163.2,1331.3 1164.8,1331.2 1166.4,1331.3 1168.0,1331.1 1169.6,1331.3 1171.2,1331.1 1172.8,1331.2 1174.4,1331.2 1176.0,1331.2 1177.6,1331.1 1179.2,1331.1 1180.8,1331.0 1182.4,1331.1 1184.0,1331.1 1185.6,1331.3 1187.2,1331.1 1188.8,1331.2 1190.4,1331.1 1192.0,1331.2 1193.6,1331.1 1195.2,1331.0 1196.8,1331.0 1198.4,1331.2 1200.0,1331.1 1201.6,1331.2 1203.2,1331.1 1204.8,1331.3 1206.4,1331.1 1208.0,1331.2 1209.6,1331.0 1211.2,1331.2 1212.8,1331.1 1214.4,1331.3 1216.0,1331.0 1217.6,1331.3 1219.2,1331.2 1220.8,1331.2 1222.4,1331.1 1224.0,1331.2 1225.6,1331.0 1227.2,1331.2 1228.8,1331.1 1230.4,1331.2 1232.0,1331.0 1233.6,1331.1 1235.2,1331.1 1236.8,1331.2 1238.4,1331.0 1240.0,1331.1 1241.6,1331.0 1243.2,1331.2 1244.8,1331.0 1246.4,1331.1 1248.0,1331.1 1249.6,1331.2 1251.2,1331.1 1252.8,1331.1 1254.4,1331.1 1256.0,1331.2 1257.6,1331.1 1259.2,1331.3 1260.8,1331.1 1262.4,1331.2 1264.0,1331.1 1265.6,1331.2 1267.2,1331.1 1268.8,1331.2 1270.4,1331.0 1272.0,1331.2 1273.6,1331.0 1275.2,1331.1 1276.8,1331.1 1278.4,1331.2 1280.0,1331.0 1281.6,1331.3 1283.2,1331.0 1284.8,1331.1 1286.4,1330.9 1288.0,1331.1 1289.6,1330.9 1291.2,1331.0 1292.8,1330.9 1294.4,1331.1 1296.0,1331.0 1297.6,1331.1 1299.2,1331.0 1300.8,1331.1 1302.4,1330.9 1304.0,1331.1 1304.8,1330.9" stroke="#98b954" stroke-width="5.5" fill="none" stroke-linejoin="round" stroke-linecap="round"/>
<path d="M371.0,1124.7 374.1,1115.5 377.2,1121.1 380.2,1121.4 383.3,1130.1 386.3,1120.7 389.4,1132.5 392.4,1128.3 395.4,1122.2 398.4,1122.7 401.4,1131.2 404.3,1129.6 407.3,1134.7 410.2,1126.0 413.2,1132.5 416.1,1132.7 419.0,1133.4 421.9,1128.7 424.8,1133.0 427.6,1130.9 430.5,1143.3 433.3,1130.4 436.2,1138.7 439.0,1128.2 441.8,1143.1 444.6,1139.1 447.4,1145.2 450.1,1135.7 452.9,1144.8 455.7,1147.2 458.4,1144.9 461.1,1140.5 463.8,1150.7 466.5,1139.2 469.2,1148.7 471.9,1143.2 474.6,1148.3 477.2,1139.7 479.9,1151.0 482.5,1149.8 485.1,1153.7 487.8,1153.4 490.4,1155.6 493.0,1150.6 495.5,1162.2 498.1,1157.2 500.7,1160.0 503.2,1154.3 505.7,1160.5 508.3,1156.2 510.8,1163.5 513.3,1157.8 515.8,1163.6 518.3,1160.0 520.8,1166.6 523.2,1164.9 525.7,1171.0 528.1,1164.0 530.6,1175.1 533.0,1171.3 535.4,1176.0 537.9,1168.9 540.3,1173.9 542.7,1169.4 545.1,1178.5 547.4,1176.7 549.8,1177.1 552.2,1177.8 554.5,1182.8 556.9,1179.5 559.2,1182.4 561.6,1183.5 563.9,1188.6 566.2,1183.8 568.5,1188.3 570.8,1190.9 573.1,1195.6 575.4,1192.7 577.7,1196.5 579.9,1194.2 582.2,1201.4 584.5,1199.2 586.7,1202.3 588.9,1200.9 591.2,1204.3 593.4,1203.9 595.6,1209.9 597.8,1206.7 600.0,1212.3 602.2,1208.9 604.4,1216.2 606.6,1215.6 608.7,1220.2 610.9,1215.5 613.0,1222.6 615.2,1219.2 617.3,1223.9 619.4,1222.9 621.6,1225.5 623.7,1225.2 625.8,1230.7 627.9,1230.4 630.0,1235.3 632.1,1234.9 634.1,1237.2 636.2,1237.3 638.3,1241.6 640.3,1242.2 642.4,1247.0 644.4,1245.9 646.5,1249.9 648.5,1247.5 650.5,1253.0 652.5,1252.8 654.5,1257.0 656.5,1257.3 658.5,1262.8 660.5,1260.7 662.5,1263.9 664.5,1263.5 666.5,1264.4 668.5,1264.5 670.5,1266.9 672.5,1265.9 674.5,1270.3 676.5,1267.5 678.5,1269.1 680.5,1268.8 682.5,1270.1 684.5,1267.5 686.5,1271.6 688.5,1269.7 690.5,1272.3 692.5,1270.2 694.5,1272.4 696.5,1272.5 698.5,1274.9 700.5,1272.7 702.5,1273.9 704.5,1273.1 706.5,1274.4 708.5,1273.2 710.5,1275.2 712.5,1274.9 714.5,1277.2 716.5,1275.4 718.5,1277.8 720.5,1276.4 722.5,1277.1 724.5,1277.9 726.5,1278.4 728.5,1279.2 730.5,1280.0 732.5,1279.5 734.5,1281.4 736.5,1280.6 738.5,1281.8 740.5,1282.0 742.5,1282.9 744.5,1283.3 746.5,1284.1 748.5,1283.2 750.5,1284.4 752.5,1285.0 754.5,1285.7 756.5,1285.4 758.5,1286.3 760.5,1286.7 762.5,1287.7 764.5,1287.5 766.5,1288.7 768.5,1288.6 770.5,1289.6 772.5,1289.4 774.5,1291.3 776.5,1290.5 778.5,1291.5 780.5,1291.4 782.5,1292.8 784.5,1292.9 786.5,1293.4 788.5,1293.1 790.5,1294.2 792.5,1294.3 794.5,1294.9 796.5,1294.8 798.5,1295.7 800.0,1295.5 800.5,1296.2 801.6,1295.7 803.2,1296.8 804.8,1296.1 806.4,1297.2 808.0,1296.6 809.6,1298.1 811.2,1297.7 812.8,1298.2 814.4,1297.6 816.0,1298.0 817.6,1297.8 819.2,1298.4 820.8,1298.2 822.4,1298.7 824.0,1298.2 825.6,1298.7 827.2,1298.6 828.8,1299.0 830.4,1298.8 832.0,1298.8 833.6,1298.4 835.2,1298.7 836.8,1298.3 838.4,1298.2 840.0,1297.9 841.6,1298.2 843.2,1297.7 844.8,1297.6 846.4,1297.4 846.9,1298.2 848.0,1295.9 849.6,1294.5 849.9,1293.5 851.2,1296.0 852.8,1297.7 852.9,1298.4 854.4,1298.3 855.9,1299.0 856.0,1298.8 857.6,1298.6 859.2,1298.0 860.8,1297.7 862.4,1297.4 864.0,1297.1 865.6,1297.2 867.2,1297.7 868.8,1297.4 870.4,1297.6 872.0,1297.8 873.6,1297.9 875.2,1297.4 876.8,1297.5 878.4,1296.9 880.0,1297.1 881.6,1296.6 883.2,1296.7 884.8,1296.4 886.4,1296.4 888.0,1296.2 889.6,1296.3 891.2,1295.7 892.8,1295.6 894.4,1295.0 896.0,1295.0 897.6,1294.5 899.2,1294.6 900.8,1294.3 902.4,1294.1 904.0,1293.8 905.6,1293.7 907.2,1293.2 908.8,1293.2 910.4,1292.8 912.0,1292.7 913.6,1292.1 915.2,1292.4 916.8,1291.9 918.4,1291.8 920.0,1291.2 921.6,1291.3 923.2,1290.7 924.8,1290.9 926.4,1290.5 928.0,1290.3 929.6,1290.0 931.2,1289.9 932.8,1289.5 934.4,1289.7 936.0,1289.3 937.6,1289.3 939.2,1289.0 940.8,1288.9 942.4,1288.6 944.0,1288.7 945.6,1288.1 947.2,1288.2 948.8,1288.0 950.4,1287.9 952.0,1287.7 953.6,1287.5 954.0,1287.3 955.2,1286.0 956.8,1283.6 957.0,1283.7 958.4,1285.2 960.0,1287.1 960.0,1287.0 961.6,1286.8 963.2,1286.8 964.8,1286.7 966.4,1286.2 968.0,1286.2 969.6,1285.9 971.2,1286.0 972.8,1285.6 974.4,1285.7 976.0,1285.1 977.6,1285.2 979.2,1284.9 980.8,1284.8 982.4,1284.9 984.0,1284.7 985.6,1284.4 987.2,1284.7 988.8,1284.1 990.4,1284.3 992.0,1284.0 993.6,1284.1 995.2,1283.8 996.8,1283.7 998.0,1283.7 998.4,1283.2 1000.0,1281.7 1000.0,1282.0 1001.6,1283.2 1002.0,1283.5 1003.2,1283.4 1004.8,1283.3 1006.4,1283.0 1008.0,1283.2 1008.0,1283.2 1009.6,1282.1 1010.0,1281.4 1011.2,1282.8 1012.0,1283.3 1012.8,1283.4 1014.4,1283.4 1016.0,1283.5 1017.6,1283.5 1019.2,1283.9 1020.8,1284.0 1022.4,1284.4 1024.0,1284.3 1025.6,1284.6 1027.2,1284.7 1028.8,1285.0 1030.4,1285.0 1032.0,1285.3 1033.6,1285.4 1035.2,1285.9 1036.8,1286.0 1038.4,1286.6 1040.0,1286.5 1041.6,1287.1 1043.2,1287.3 1044.8,1288.2 1046.4,1288.7 1048.0,1289.3 1049.6,1289.7 1051.2,1290.4 1052.8,1290.9 1054.4,1291.9 1056.0,1292.8 1057.6,1293.9 1059.2,1294.8 1060.8,1295.9 1062.4,1296.7 1064.0,1297.9 1065.6,1298.6 1067.2,1299.9 1068.8,1300.8 1070.4,1302.1 1072.0,1303.0 1073.6,1304.1 1075.2,1305.0 1076.8,1306.4 1078.4,1307.3 1080.0,1308.3 1081.6,1309.2 1083.2,1310.6 1084.8,1311.4 1086.4,1312.7 1088.0,1313.4 1089.6,1314.8 1091.2,1315.4 1092.8,1316.3 1094.4,1317.1 1096.0,1318.1 1097.6,1318.8 1099.2,1319.5 1100.8,1320.1 1102.4,1320.9 1104.0,1321.5 1105.6,1322.4 1107.2,1322.8 1108.8,1323.4 1110.4,1324.1 1112.0,1324.7 1113.6,1324.9 1115.2,1325.5 1116.8,1326.0 1118.4,1326.5 1120.0,1326.9 1121.6,1327.3 1123.2,1327.4 1124.8,1328.0 1126.4,1328.1 1128.0,1328.7 1129.6,1328.8 1131.2,1329.3 1132.8,1329.2 1134.4,1329.7 1136.0,1329.8 1137.6,1330.0 1139.2,1330.1 1140.8,1330.4 1142.4,1330.6 1144.0,1330.8 1145.6,1330.8 1147.2,1331.0 1148.8,1331.1 1150.4,1331.2 1152.0,1331.3 1153.6,1331.5 1155.2,1331.4 1156.8,1331.7 1158.4,1331.8 1160.0,1332.0 1161.6,1332.0 1163.2,1332.2 1164.8,1332.0 1166.4,1332.3 1168.0,1332.2 1169.6,1332.4 1171.2,1332.4 1172.8,1332.6 1174.4,1332.5 1176.0,1332.6 1177.6,1332.5 1179.2,1332.8 1180.8,1332.8 1182.4,1332.9 1184.0,1332.7 1185.6,1332.8 1187.2,1332.8 1188.8,1333.2 1190.4,1332.9 1192.0,1333.2 1193.6,1333.0 1195.2,1333.1 1196.8,1333.1 1198.4,1333.2 1200.0,1333.1 1201.6,1333.3 1203.2,1333.2 1204.8,1333.3 1206.4,1333.2 1208.0,1333.3 1209.6,1333.4 1211.2,1333.4 1212.8,1333.3 1214.4,1333.5 1216.0,1333.5 1217.6,1333.6 1219.2,1333.4 1220.8,1333.5 1222.4,1333.4 1224.0,1333.7 1225.6,1333.7 1227.2,1333.8 1228.8,1333.6 1230.4,1333.8 1232.0,1333.7 1233.6,1333.8 1235.2,1333.6 1236.8,1333.8 1238.4,1333.7 1240.0,1333.8 1241.6,1333.6 1243.2,1333.8 1244.8,1333.7 1246.4,1333.8 1248.0,1333.7 1249.6,1333.8 1251.2,1333.7 1252.8,1333.8 1254.4,1333.8 1256.0,1333.9 1257.6,1333.8 1259.2,1334.0 1260.8,1334.0 1262.4,1334.1 1264.0,1334.0 1265.6,1334.0 1267.2,1333.9 1268.8,1334.0 1270.4,1333.8 1272.0,1333.9 1273.6,1333.7 1275.2,1333.8 1276.8,1333.7 1278.4,1333.7 1280.0,1333.7 1281.6,1333.7 1283.2,1333.7 1284.8,1333.8 1286.4,1333.6 1288.0,1333.7 1289.6,1333.6 1291.2,1333.6 1292.8,1333.4 1294.4,1333.7 1296.0,1333.5 1297.6,1333.6 1299.2,1333.4 1300.8,1333.6 1302.4,1333.4 1304.0,1333.4 1305.6,1333.3 1307.2,1333.5 1308.8,1333.6 1310.4,1333.8 1312.0,1333.8 1313.6,1334.0 1315.2,1334.0 1316.8,1334.0 1318.4,1334.1 1320.0,1334.4 1321.6,1334.2 1323.2,1334.5 1324.8,1334.4 1326.4,1334.7 1328.0,1334.6 1329.6,1334.8 1331.2,1334.9 1332.8,1335.0 1334.4,1335.0 1336.0,1335.2 1337.6,1335.1 1339.2,1335.3 1340.8,1335.3 1342.4,1335.5 1344.0,1335.6 1345.6,1335.7 1347.2,1335.7 1348.8,1335.9 1350.4,1335.9 1352.0,1336.0 1353.6,1336.1 1355.2,1336.2 1356.8,1336.1 1358.4,1336.3 1360.0,1336.4 1361.2,1336.6" stroke="#7d60a0" stroke-width="5.5" fill="none" stroke-linejoin="round" stroke-linecap="round"/>
</g>
<text id="c1y0" x="347.3" y="851.6" font-size="23.20" text-anchor="end" textLength="33.80" lengthAdjust="spacingAndGlyphs" fill="#000">-20</text>
<text id="c1y1" x="347.3" y="889.0" font-size="23.20" text-anchor="end" textLength="33.80" lengthAdjust="spacingAndGlyphs" fill="#000">-30</text>
<text id="c1y2" x="347.3" y="926.5" font-size="23.20" text-anchor="end" textLength="33.80" lengthAdjust="spacingAndGlyphs" fill="#000">-40</text>
<text id="c1y3" x="347.3" y="963.9" font-size="23.20" text-anchor="end" textLength="33.80" lengthAdjust="spacingAndGlyphs" fill="#000">-50</text>
<text id="c1y4" x="347.3" y="1001.3" font-size="23.20" text-anchor="end" textLength="33.80" lengthAdjust="spacingAndGlyphs" fill="#000">-60</text>
<text id="c1y5" x="347.3" y="1038.7" font-size="23.20" text-anchor="end" textLength="33.80" lengthAdjust="spacingAndGlyphs" fill="#000">-70</text>
<text id="c1y6" x="347.3" y="1076.2" font-size="23.20" text-anchor="end" textLength="33.80" lengthAdjust="spacingAndGlyphs" fill="#000">-80</text>
<text id="c1y7" x="347.3" y="1113.6" font-size="23.20" text-anchor="end" textLength="33.80" lengthAdjust="spacingAndGlyphs" fill="#000">-90</text>
<text id="c1y8" x="347.3" y="1151.0" font-size="23.20" text-anchor="end" textLength="47.00" lengthAdjust="spacingAndGlyphs" fill="#000">-100</text>
<text id="c1y9" x="347.3" y="1188.4" font-size="23.20" text-anchor="end" textLength="47.00" lengthAdjust="spacingAndGlyphs" fill="#000">-110</text>
<text id="c1y10" x="347.3" y="1225.9" font-size="23.20" text-anchor="end" textLength="47.00" lengthAdjust="spacingAndGlyphs" fill="#000">-120</text>
<text id="c1y11" x="347.3" y="1263.3" font-size="23.20" text-anchor="end" textLength="47.00" lengthAdjust="spacingAndGlyphs" fill="#000">-130</text>
<text id="c1y12" x="347.3" y="1300.7" font-size="23.20" text-anchor="end" textLength="47.00" lengthAdjust="spacingAndGlyphs" fill="#000">-140</text>
<text id="c1y13" x="347.3" y="1338.1" font-size="23.20" text-anchor="end" textLength="47.00" lengthAdjust="spacingAndGlyphs" fill="#000">-150</text>
<text id="c1y14" x="347.3" y="1375.6" font-size="23.20" text-anchor="end" textLength="47.00" lengthAdjust="spacingAndGlyphs" fill="#000">-160</text>
<text id="c1y15" x="347.3" y="1413.0" font-size="23.20" text-anchor="end" textLength="47.00" lengthAdjust="spacingAndGlyphs" fill="#000">-170</text>
<text id="c1x0" x="369.9" y="1442.2" font-size="24.40" text-anchor="middle" textLength="68.00" lengthAdjust="spacingAndGlyphs" fill="#000">1.E+01</text>
<text id="c1x1" x="511.5" y="1442.2" font-size="24.40" text-anchor="middle" textLength="68.00" lengthAdjust="spacingAndGlyphs" fill="#000">1.E+02</text>
<text id="c1x2" x="653.2" y="1442.2" font-size="24.40" text-anchor="middle" textLength="68.00" lengthAdjust="spacingAndGlyphs" fill="#000">1.E+03</text>
<text id="c1x3" x="794.8" y="1442.2" font-size="24.40" text-anchor="middle" textLength="68.00" lengthAdjust="spacingAndGlyphs" fill="#000">1.E+04</text>
<text id="c1x4" x="936.4" y="1442.2" font-size="24.40" text-anchor="middle" textLength="68.00" lengthAdjust="spacingAndGlyphs" fill="#000">1.E+05</text>
<text id="c1x5" x="1078.0" y="1442.2" font-size="24.40" text-anchor="middle" textLength="68.00" lengthAdjust="spacingAndGlyphs" fill="#000">1.E+06</text>
<text id="c1x6" x="1219.7" y="1442.2" font-size="24.40" text-anchor="middle" textLength="68.00" lengthAdjust="spacingAndGlyphs" fill="#000">1.E+07</text>
<text id="c1x7" x="1361.3" y="1442.2" font-size="24.40" text-anchor="middle" textLength="68.00" lengthAdjust="spacingAndGlyphs" fill="#000">1.E+08</text>
<text id="c1at" x="864.6" y="1478.0" font-size="21.60" text-anchor="middle" font-weight="bold" textLength="222.60" lengthAdjust="spacingAndGlyphs" fill="#000">L(f) [dBc/Hz]vs. f [Hz]</text>
<text id="c1title" x="945.4" y="798.5" font-size="39.30" text-anchor="middle" font-weight="bold" textLength="536.00" lengthAdjust="spacingAndGlyphs" fill="#000">Single sideband phase noise</text>
<path d="M1436.6,1065.0H1485.4" stroke="#4a7ebb" stroke-width="5.5" stroke-linecap="round"/>
<text id="c1l0" x="1490.3" y="1072.6" font-size="22.30" textLength="80.20" lengthAdjust="spacingAndGlyphs" fill="#000">60 MHz</text>
<path d="M1436.6,1130.9H1485.4" stroke="#be4b48" stroke-width="5.5" stroke-linecap="round"/>
<text id="c1l1" x="1490.3" y="1138.5" font-size="22.30" textLength="93.20" lengthAdjust="spacingAndGlyphs" fill="#000">150 MHz</text>
<path d="M1436.6,1196.8H1485.4" stroke="#98b954" stroke-width="5.5" stroke-linecap="round"/>
<text id="c1l2" x="1490.3" y="1204.4" font-size="22.30" textLength="93.20" lengthAdjust="spacingAndGlyphs" fill="#000">250 MHz</text>
<path d="M1436.6,1262.7H1485.4" stroke="#7d60a0" stroke-width="5.5" stroke-linecap="round"/>
<text id="c1l3" x="1490.3" y="1270.3" font-size="22.30" textLength="93.20" lengthAdjust="spacingAndGlyphs" fill="#000">400 MHz</text>
</g>
<g id="chart2">
<rect x="283.8" y="1628.8" width="1325.1" height="780.2" fill="#fff" stroke="#8a8a8a" stroke-width="1.8"/>
<path d="M413.19,1736.2V2297.6M438.11,1736.2V2297.6M455.78,1736.2V2297.6M469.49,1736.2V2297.6M480.70,1736.2V2297.6M490.17,1736.2V2297.6M498.37,1736.2V2297.6M505.61,1736.2V2297.6M554.68,1736.2V2297.6M579.59,1736.2V2297.6M597.27,1736.2V2297.6M610.98,1736.2V2297.6M622.18,1736.2V2297.6M631.66,1736.2V2297.6M639.86,1736.2V2297.6M647.10,1736.2V2297.6M696.16,1736.2V2297.6M721.08,1736.2V2297.6M738.75,1736.2V2297.6M752.47,1736.2V2297.6M763.67,1736.2V2297.6M773.14,1736.2V2297.6M781.35,1736.2V2297.6M788.58,1736.2V2297.6M837.65,1736.2V2297.6M862.56,1736.2V2297.6M880.24,1736.2V2297.6M893.95,1736.2V2297.6M905.15,1736.2V2297.6M914.63,1736.2V2297.6M922.83,1736.2V2297.6M930.07,1736.2V2297.6M979.13,1736.2V2297.6M1004.05,1736.2V2297.6M1021.73,1736.2V2297.6M1035.44,1736.2V2297.6M1046.64,1736.2V2297.6M1056.11,1736.2V2297.6M1064.32,1736.2V2297.6M1071.55,1736.2V2297.6M1120.62,1736.2V2297.6M1145.53,1736.2V2297.6M1163.21,1736.2V2297.6M1176.92,1736.2V2297.6M1188.13,1736.2V2297.6M1197.60,1736.2V2297.6M1205.80,1736.2V2297.6M1213.04,1736.2V2297.6M1262.11,1736.2V2297.6M1287.02,1736.2V2297.6M1304.70,1736.2V2297.6M1318.41,1736.2V2297.6M1329.61,1736.2V2297.6M1339.08,1736.2V2297.6M1347.29,1736.2V2297.6M1354.53,1736.2V2297.6" stroke="#a9a9a9" stroke-width="1.4" fill="none"/>
<path d="M362.1,1736.20H1361.9M362.1,1773.63H1361.9M362.1,1811.05H1361.9M362.1,1848.48H1361.9M362.1,1885.91H1361.9M362.1,1923.33H1361.9M362.1,1960.76H1361.9M362.1,1998.19H1361.9M362.1,2035.61H1361.9M362.1,2073.04H1361.9M362.1,2110.47H1361.9M362.1,2147.89H1361.9M362.1,2185.32H1361.9M362.1,2222.75H1361.9M362.1,2260.17H1361.9M362.1,2297.60H1361.9" stroke="#7c7c7c" stroke-width="1.75" fill="none"/>
<path d="M370.60,1735.8V2298.4M512.09,1735.8V2298.4M653.57,1735.8V2298.4M795.06,1735.8V2298.4M936.54,1735.8V2298.4M1078.03,1735.8V2298.4M1219.51,1735.8V2298.4M1361.00,1735.8V2298.4" stroke="#727272" stroke-width="1.5" fill="none"/>
<clipPath id="clip2"><rect x="370.2" y="1726.2" width="1010" height="580"/></clipPath>
<g clip-path="url(#clip2)">
<path d="M371.0,2062.4 373.0,2061.0 374.1,2057.8 377.2,2067.0 380.2,2075.0 383.3,2064.2 386.3,2076.3 389.4,2069.2 392.4,2072.1 395.4,2072.8 398.4,2078.7 401.4,2084.2 404.3,2083.6 407.3,2068.1 410.2,2083.4 413.2,2078.9 416.1,2093.3 419.0,2078.6 421.9,2083.9 424.8,2074.0 427.6,2080.6 430.5,2077.7 433.3,2079.2 436.2,2076.3 439.0,2084.7 441.8,2082.5 444.6,2086.7 447.4,2091.3 450.1,2092.9 452.9,2090.5 455.7,2092.1 458.4,2087.7 461.1,2085.6 463.8,2083.0 466.5,2096.2 469.2,2092.8 471.9,2099.3 474.6,2087.2 474.9,2091.6 477.2,2080.7 477.9,2084.1 479.9,2091.2 480.9,2098.0 482.5,2093.0 483.9,2101.8 485.1,2100.2 487.8,2099.8 490.4,2093.9 493.0,2108.4 495.5,2102.3 498.1,2107.2 500.7,2102.2 503.2,2107.7 505.7,2102.6 508.3,2114.8 510.8,2104.8 513.3,2110.5 515.8,2109.8 518.3,2111.8 520.8,2109.1 523.2,2114.1 525.7,2111.8 528.1,2117.4 530.6,2113.1 533.0,2120.2 535.4,2119.2 537.9,2120.5 540.3,2120.1 542.7,2124.6 545.1,2119.0 547.4,2120.9 549.8,2120.5 549.9,2125.6 552.2,2116.4 552.3,2120.9 553.9,2114.2 554.5,2120.3 555.9,2123.9 556.9,2126.2 559.2,2124.4 559.9,2129.1 561.6,2125.3 563.9,2129.9 566.2,2127.6 568.5,2133.7 570.8,2133.6 573.1,2133.3 575.4,2134.0 577.7,2135.4 579.9,2131.6 582.2,2138.5 584.5,2136.9 586.7,2137.0 588.9,2138.3 591.2,2141.4 593.4,2141.3 595.6,2143.1 597.8,2137.9 600.0,2146.3 602.2,2143.6 604.4,2145.7 606.6,2141.5 608.7,2146.1 610.9,2143.1 613.0,2147.4 615.2,2145.4 617.3,2149.6 619.4,2146.5 621.6,2151.2 623.7,2147.7 625.8,2151.4 627.9,2149.1 630.0,2152.4 632.1,2152.5 634.1,2152.5 636.2,2153.8 638.3,2155.3 640.3,2152.1 642.4,2156.0 644.4,2154.9 646.5,2154.9 648.5,2154.5 650.5,2155.8 652.5,2154.1 654.5,2155.4 656.5,2155.2 658.5,2156.3 660.5,2154.4 662.5,2158.1 664.5,2156.3 666.5,2159.5 668.5,2156.6 670.5,2157.8 672.5,2157.3 673.0,2160.1 674.5,2156.2 675.6,2157.2 676.5,2156.8 678.0,2161.1 678.5,2159.5 680.5,2160.3 682.5,2159.1 684.5,2159.4 686.5,2160.8 688.5,2162.0 690.5,2160.8 692.5,2161.6 694.5,2159.6 696.5,2163.2 698.5,2161.6 700.5,2163.9 702.5,2162.9 704.5,2163.9 706.5,2163.1 708.5,2164.5 710.5,2163.8 712.5,2165.8 714.5,2164.2 716.5,2165.2 718.5,2165.7 720.5,2166.2 722.5,2166.2 724.5,2167.5 726.5,2166.5 728.5,2167.4 730.5,2167.4 732.5,2168.2 734.5,2168.0 736.5,2168.6 738.5,2168.7 740.5,2169.6 742.5,2169.6 744.5,2170.3 746.5,2169.0 748.5,2169.8 750.5,2169.8 752.5,2170.5 754.5,2170.6 756.5,2170.8 757.9,2170.4 758.5,2169.9 760.5,2165.1 760.9,2165.7 762.5,2167.5 763.9,2171.7 764.5,2170.9 766.5,2172.0 768.5,2171.7 770.5,2172.7 772.5,2172.2 774.5,2173.3 776.5,2173.0 778.5,2173.7 780.5,2173.2 782.5,2174.1 784.5,2174.0 786.5,2174.6 788.5,2174.0 790.5,2174.6 792.5,2175.0 794.5,2175.3 796.5,2174.7 798.5,2175.0 800.0,2174.4 800.5,2175.2 801.6,2174.9 803.2,2175.3 804.8,2175.1 806.4,2175.6 808.0,2174.9 809.6,2175.8 811.2,2175.3 812.8,2175.8 814.4,2175.0 816.0,2175.5 817.6,2175.4 819.2,2175.6 820.8,2175.4 822.4,2175.8 824.0,2175.5 825.6,2176.2 827.2,2175.3 828.8,2176.0 830.4,2175.3 832.0,2176.0 833.6,2175.2 835.2,2175.5 836.8,2175.2 838.4,2175.4 840.0,2175.4 841.6,2175.6 843.2,2174.9 844.8,2175.3 846.4,2175.1 848.0,2175.2 849.6,2174.8 851.2,2174.8 852.8,2174.2 854.4,2174.8 856.0,2174.2 857.6,2174.2 859.2,2173.8 860.8,2174.0 862.4,2173.6 864.0,2173.6 865.6,2173.0 867.2,2173.1 868.8,2172.8 870.4,2172.5 872.0,2171.9 873.6,2171.9 875.2,2171.4 876.8,2171.5 878.4,2171.2 880.0,2171.1 881.6,2170.6 883.2,2170.7 884.8,2170.0 886.4,2169.9 888.0,2169.3 889.6,2169.5 891.2,2168.8 892.8,2168.7 894.4,2168.3 896.0,2168.2 897.6,2167.7 899.2,2167.7 900.8,2167.2 902.4,2167.1 904.0,2166.7 905.6,2166.7 907.2,2166.0 908.8,2165.9 910.4,2165.3 912.0,2165.4 913.6,2164.9 915.2,2165.0 916.8,2164.4 918.4,2164.1 920.0,2163.8 921.6,2163.9 923.2,2163.3 924.8,2163.5 926.4,2162.9 928.0,2162.9 929.6,2162.3 931.2,2162.3 932.8,2161.8 934.4,2161.9 936.0,2161.3 937.6,2161.4 939.2,2161.2 940.8,2161.3 942.4,2160.8 944.0,2161.2 945.6,2160.7 947.2,2161.0 948.8,2160.6 950.4,2160.8 952.0,2160.5 953.6,2160.5 954.0,2160.4 955.2,2158.9 956.8,2156.9 957.6,2155.9 958.4,2156.9 960.0,2159.0 961.0,2159.7 961.6,2160.1 963.2,2159.9 964.8,2160.1 966.4,2159.8 968.0,2160.0 969.6,2159.8 971.2,2160.2 972.8,2159.9 974.4,2160.0 976.0,2159.8 977.6,2160.0 979.2,2159.9 980.8,2160.3 982.4,2160.3 984.0,2160.8 985.6,2160.8 987.2,2161.4 988.8,2161.4 990.4,2161.9 992.0,2162.0 993.6,2162.8 995.2,2162.9 996.8,2163.5 998.4,2163.7 1000.0,2164.5 1001.6,2164.9 1003.2,2165.8 1004.8,2166.1 1006.4,2166.9 1007.0,2166.9 1008.0,2166.2 1009.6,2164.7 1010.0,2164.5 1011.2,2167.2 1012.4,2170.1 1012.8,2170.1 1014.4,2171.4 1016.0,2172.2 1017.6,2173.5 1019.2,2174.2 1020.8,2175.5 1022.4,2176.1 1024.0,2176.6 1025.6,2177.1 1027.2,2177.9 1028.8,2178.3 1030.4,2179.1 1032.0,2179.4 1033.6,2179.9 1035.2,2180.4 1036.8,2180.7 1038.4,2180.8 1040.0,2181.6 1041.6,2181.9 1043.2,2182.1 1044.8,2182.3 1046.4,2182.6 1048.0,2182.7 1049.6,2183.0 1050.9,2183.2 1051.2,2182.7 1052.8,2180.7 1052.9,2180.7 1054.4,2182.8 1054.9,2183.8 1056.0,2183.8 1057.6,2184.0 1059.2,2184.0 1060.8,2184.3 1062.4,2184.2 1064.0,2184.4 1065.6,2184.5 1067.2,2184.7 1068.8,2184.7 1070.4,2184.9 1072.0,2184.9 1073.6,2185.0 1075.2,2185.0 1076.8,2185.2 1078.4,2185.2 1080.0,2185.2 1081.6,2185.1 1083.2,2185.3 1084.8,2185.2 1086.4,2185.3 1088.0,2185.1 1089.6,2185.2 1091.2,2185.3 1092.8,2185.4 1094.4,2185.2 1096.0,2185.4 1097.6,2185.3 1099.2,2185.3 1100.8,2185.2 1102.4,2185.4 1104.0,2185.2 1105.6,2185.5 1107.2,2185.4 1108.8,2185.4 1110.4,2185.3 1112.0,2185.4 1113.6,2185.3 1115.2,2185.3 1116.8,2185.3 1117.9,2185.5 1118.4,2184.4 1119.9,2182.1 1120.0,2182.0 1121.6,2185.0 1121.9,2185.2 1123.2,2185.5 1124.8,2185.3 1126.4,2185.4 1128.0,2185.4 1129.6,2185.5 1131.2,2185.4 1132.8,2185.5 1134.4,2185.4 1136.0,2185.6 1137.6,2185.5 1138.9,2185.7 1139.2,2184.7 1140.8,2180.8 1141.5,2179.0 1142.4,2181.5 1143.9,2185.4 1144.0,2185.6 1145.6,2185.6 1147.2,2185.7 1148.8,2185.6 1150.4,2185.8 1152.0,2185.8 1153.6,2185.9 1155.2,2185.8 1156.8,2186.0 1158.4,2185.9 1160.0,2186.0 1161.6,2185.9 1163.2,2186.1 1164.8,2185.8 1166.4,2186.0 1168.0,2185.9 1169.6,2186.1 1171.2,2185.9 1172.8,2186.1 1174.4,2186.0 1176.0,2186.0 1177.6,2186.0 1178.3,2186.0 1179.2,2183.2 1180.8,2178.6 1180.8,2178.3 1182.4,2183.1 1183.4,2185.9 1184.0,2186.0 1185.6,2185.9 1187.2,2186.1 1188.8,2186.0 1190.4,2186.2 1192.0,2186.0 1193.6,2186.3 1195.2,2186.3 1196.8,2186.4 1198.4,2186.3 1200.0,2186.5 1201.6,2186.2 1203.2,2186.3 1204.8,2186.3 1206.4,2186.3 1208.0,2186.3 1209.6,2186.4 1211.2,2186.2 1212.8,2186.5 1214.4,2186.2 1216.0,2186.4 1217.6,2186.3 1219.2,2186.4 1220.8,2186.2 1222.4,2186.4 1224.0,2186.3 1225.6,2186.4 1227.2,2186.3 1228.8,2186.4 1230.4,2186.3 1232.0,2186.4 1233.6,2186.4 1235.2,2186.6 1236.8,2186.5 1238.4,2186.6 1240.0,2186.5 1241.6,2186.5 1243.2,2186.5 1244.8,2186.6 1246.4,2186.4 1248.0,2186.6 1249.6,2186.5 1251.2,2186.6 1252.8,2186.6 1254.4,2186.7 1256.0,2186.5 1257.6,2186.7 1259.2,2186.4 1260.8,2186.4 1262.2,2186.4" stroke="#4a7ebb" stroke-width="5.5" fill="none" stroke-linejoin="round" stroke-linecap="round"/>
<path d="M371.0,2048.3 374.1,2036.0 375.0,2042.5 377.2,2037.5 379.0,2039.3 380.2,2034.3 383.3,2053.2 386.3,2046.8 389.4,2051.6 392.4,2052.8 395.4,2057.1 398.4,2047.2 401.4,2057.6 404.3,2045.9 407.3,2052.4 410.2,2056.3 413.2,2058.4 416.1,2052.2 419.0,2059.9 421.9,2058.4 424.8,2057.5 427.6,2055.1 430.5,2060.3 433.3,2060.8 436.2,2068.4 439.0,2065.3 441.8,2063.1 444.6,2064.6 447.4,2067.0 450.1,2059.4 452.9,2069.5 455.7,2065.9 458.4,2077.2 461.1,2069.3 463.8,2072.3 466.5,2066.7 469.2,2071.6 471.9,2071.5 474.6,2077.9 477.2,2069.1 479.9,2073.5 482.5,2070.5 485.1,2077.6 487.8,2079.4 490.4,2082.3 493.0,2078.1 495.5,2079.8 498.1,2076.0 500.7,2081.3 503.2,2077.1 505.7,2078.9 507.9,2077.0 508.3,2080.5 510.8,2070.8 510.9,2075.8 513.3,2077.0 513.9,2086.2 515.8,2083.3 518.3,2085.4 520.8,2087.1 523.2,2090.7 525.7,2086.5 528.1,2088.8 530.6,2087.7 533.0,2089.8 535.4,2087.1 537.9,2095.0 540.3,2093.4 542.7,2099.9 545.1,2099.6 547.4,2103.7 549.8,2099.0 552.2,2102.7 554.5,2095.9 556.9,2098.2 557.9,2094.3 559.2,2102.6 559.9,2098.3 561.6,2107.8 562.9,2105.3 563.9,2109.2 566.2,2105.5 568.5,2108.3 570.8,2110.8 573.1,2113.9 575.4,2111.9 577.7,2116.4 579.9,2113.6 579.9,2114.4 582.2,2115.8 583.9,2116.7 584.5,2110.1 586.3,2104.2 586.7,2103.1 588.9,2121.9 588.9,2119.5 591.2,2120.8 593.4,2122.9 595.6,2126.2 597.8,2127.6 600.0,2132.7 602.2,2128.6 604.4,2134.0 606.6,2132.7 608.7,2134.0 610.9,2132.7 613.0,2138.0 615.2,2137.5 617.3,2138.4 619.4,2140.4 621.6,2145.5 623.7,2143.6 625.8,2145.4 627.9,2144.4 630.0,2146.2 632.1,2145.9 634.1,2146.2 636.2,2145.2 638.3,2145.6 640.3,2147.4 642.4,2149.8 644.4,2152.3 646.5,2153.8 648.5,2151.6 650.5,2153.8 652.5,2155.0 654.5,2156.3 656.5,2157.1 658.5,2160.1 660.5,2158.7 662.5,2162.4 664.5,2157.4 666.5,2161.6 668.5,2160.6 670.5,2161.2 672.5,2159.8 674.5,2162.6 676.5,2159.6 678.5,2160.8 680.5,2160.4 682.5,2163.0 684.5,2161.4 686.5,2163.7 688.5,2162.6 690.5,2164.5 692.5,2163.3 694.5,2165.2 696.5,2165.9 698.5,2166.3 700.5,2166.3 702.5,2169.1 704.5,2169.9 706.5,2171.7 708.5,2172.0 710.5,2174.5 712.5,2173.8 714.5,2177.3 716.5,2176.2 718.5,2177.9 720.5,2178.1 722.5,2179.8 724.5,2179.3 726.5,2181.5 728.5,2181.5 730.5,2182.5 732.5,2182.5 734.5,2183.7 736.5,2183.7 738.5,2184.6 740.5,2184.2 742.5,2185.6 744.5,2185.8 746.5,2186.5 748.5,2186.2 750.5,2187.4 752.5,2187.3 754.5,2187.9 756.5,2187.0 758.5,2188.4 760.5,2188.2 762.5,2189.4 764.5,2188.9 766.5,2190.0 768.5,2190.5 770.5,2190.5 772.5,2190.8 774.5,2192.1 776.5,2191.5 778.5,2191.9 780.5,2192.5 782.5,2193.4 784.5,2193.5 786.5,2194.3 788.5,2194.7 790.5,2195.8 792.5,2196.0 794.5,2197.1 796.5,2197.4 798.5,2198.2 800.0,2198.2 800.5,2198.8 801.6,2198.6 803.2,2199.7 804.8,2199.9 806.4,2200.8 808.0,2201.1 809.6,2201.6 811.2,2201.7 812.8,2202.1 814.4,2201.7 816.0,2201.9 817.6,2201.7 819.2,2202.3 820.8,2202.2 822.4,2202.5 824.0,2202.2 825.6,2202.9 827.2,2202.4 828.8,2203.1 830.4,2202.7 832.0,2203.5 833.6,2202.7 835.2,2203.4 836.8,2202.8 838.4,2203.0 840.0,2202.8 841.6,2203.0 843.2,2202.9 844.8,2203.4 846.4,2203.3 848.0,2204.0 849.6,2204.6 851.2,2205.1 852.8,2205.2 854.4,2205.7 856.0,2206.0 857.6,2206.1 859.2,2205.7 860.8,2206.2 862.4,2206.1 864.0,2206.4 865.6,2206.2 867.2,2206.4 868.8,2206.3 870.4,2206.8 872.0,2206.4 873.6,2206.9 875.2,2206.8 876.8,2207.0 878.4,2206.8 880.0,2207.2 881.6,2206.8 883.2,2207.4 884.8,2207.2 886.4,2207.6 888.0,2207.3 889.6,2207.7 891.2,2207.4 892.8,2208.0 894.4,2207.7 896.0,2208.3 897.6,2208.1 899.2,2208.3 900.8,2208.2 902.4,2208.6 904.0,2208.5 905.6,2208.9 907.2,2208.8 908.8,2209.1 910.4,2209.2 912.0,2209.3 913.6,2209.5 915.2,2209.7 916.8,2209.8 918.4,2209.8 920.0,2210.0 921.6,2210.2 923.2,2210.2 924.8,2210.3 926.4,2210.3 928.0,2210.6 929.6,2210.5 931.2,2210.7 932.8,2210.6 934.4,2211.0 936.0,2210.8 937.6,2211.1 939.2,2211.1 940.8,2211.4 942.4,2211.5 944.0,2211.9 945.6,2211.8 947.2,2212.0 948.8,2212.0 950.4,2212.5 952.0,2212.6 953.6,2212.8 955.2,2212.8 956.8,2213.1 958.4,2213.1 960.0,2213.2 961.6,2213.2 963.2,2213.2 964.8,2213.5 966.4,2213.6 968.0,2213.5 969.6,2213.7 971.2,2213.6 972.8,2214.0 974.4,2213.8 976.0,2214.4 977.6,2214.1 979.2,2214.4 980.8,2214.3 982.4,2214.6 984.0,2214.2 985.6,2214.7 987.2,2214.5 988.8,2214.8 990.4,2214.5 992.0,2214.8 993.6,2214.5 995.2,2214.7 996.8,2214.7 998.4,2214.9 1000.0,2214.7 1001.6,2215.1 1003.2,2214.7 1004.8,2215.3 1006.4,2215.1 1008.0,2215.2 1009.6,2215.0 1011.2,2215.1 1012.8,2215.1 1014.4,2215.3 1016.0,2215.2 1017.6,2215.3 1019.2,2215.1 1020.8,2215.3 1022.4,2215.3 1024.0,2215.5 1025.6,2215.2 1027.2,2215.2 1028.8,2215.3 1030.4,2215.4 1032.0,2215.3 1033.6,2215.5 1035.2,2215.2 1036.8,2215.4 1038.4,2215.2 1040.0,2215.5 1041.6,2215.2 1043.2,2215.3 1044.8,2215.1 1046.4,2215.5 1048.0,2215.1 1049.6,2215.5 1051.2,2215.1 1052.8,2215.4 1054.4,2215.2 1056.0,2215.6 1057.6,2215.1 1059.2,2215.3 1060.8,2215.1 1062.4,2215.2 1064.0,2215.0 1065.6,2215.3 1067.2,2215.0 1068.8,2215.3 1070.4,2215.3 1072.0,2215.2 1073.6,2215.2 1075.2,2215.2 1076.8,2215.0 1078.4,2215.2 1080.0,2214.8 1081.6,2215.2 1083.2,2215.0 1084.8,2215.3 1086.4,2214.9 1088.0,2215.1 1089.6,2215.1 1091.2,2215.0 1092.8,2214.8 1094.4,2215.0 1096.0,2214.9 1097.6,2215.1 1099.2,2214.9 1100.8,2215.0 1102.4,2214.8 1104.0,2214.9 1105.6,2214.8 1107.2,2215.0 1108.8,2214.7 1110.4,2214.8 1112.0,2214.7 1113.6,2214.9 1115.2,2214.6 1116.8,2214.9 1117.9,2214.7 1118.4,2213.8 1119.9,2211.2 1120.0,2211.7 1121.6,2214.2 1121.9,2214.8 1123.2,2214.7 1124.8,2214.9 1126.4,2214.7 1128.0,2215.0 1129.6,2214.7 1131.2,2214.8 1132.8,2214.7 1134.4,2214.8 1136.0,2214.7 1137.6,2214.9 1139.2,2214.8 1140.8,2214.9 1142.4,2214.8 1144.0,2214.9 1145.6,2214.8 1147.2,2215.0 1148.8,2214.8 1150.4,2215.0 1152.0,2214.8 1153.6,2215.0 1155.2,2214.8 1156.8,2215.0 1158.4,2214.9 1160.0,2215.0 1161.6,2214.9 1163.2,2215.1 1164.8,2214.9 1166.4,2215.1 1168.0,2214.9 1169.6,2215.1 1171.2,2215.0 1172.8,2215.2 1174.4,2214.8 1176.0,2215.1 1177.6,2214.9 1179.2,2215.2 1180.8,2215.0 1182.4,2215.2 1184.0,2215.1 1185.6,2215.4 1187.2,2215.2 1188.8,2215.3 1190.4,2215.1 1192.0,2215.1 1193.6,2215.2 1195.2,2215.3 1196.8,2215.2 1198.4,2215.3 1200.0,2215.2 1201.6,2215.2 1203.2,2215.2 1204.8,2215.3 1206.4,2215.1 1208.0,2215.3 1209.6,2215.1 1211.2,2215.3 1212.8,2215.2 1214.4,2215.4 1216.0,2215.3 1217.6,2215.5 1219.2,2215.4 1220.8,2215.4 1222.4,2215.2 1224.0,2215.5 1225.6,2215.3 1227.2,2215.5 1228.8,2215.3 1230.4,2215.5 1232.0,2215.4 1233.6,2215.5 1235.2,2215.3 1236.8,2215.5 1238.4,2215.4 1240.0,2215.5 1241.6,2215.4 1243.2,2215.5 1244.8,2215.3 1246.4,2215.5 1248.0,2215.4 1249.6,2215.5 1251.2,2215.5 1252.8,2215.6 1254.4,2215.4 1256.0,2215.5 1257.6,2215.4 1259.2,2215.6 1260.8,2215.5 1262.4,2215.6 1264.0,2215.7 1265.6,2215.8 1267.2,2215.6 1268.8,2215.7 1270.4,2215.6 1272.0,2215.8 1273.6,2215.6 1275.2,2215.8 1276.8,2215.8 1278.4,2215.9 1280.0,2215.7 1281.6,2215.9 1283.2,2215.9 1284.8,2215.9 1286.4,2215.9 1288.0,2215.9 1289.6,2215.9 1291.2,2216.1 1292.8,2215.9 1294.4,2216.0 1296.0,2216.0 1297.6,2216.2 1299.2,2216.0 1300.8,2216.2 1302.4,2216.2 1304.0,2216.2 1304.8,2216.1" stroke="#be4b48" stroke-width="5.5" fill="none" stroke-linejoin="round" stroke-linecap="round"/>
<path d="M371.0,2019.1 374.0,2019.6 374.1,2031.1 377.2,2024.7 378.0,2029.9 380.2,2024.8 383.3,2032.6 386.3,2026.3 389.4,2034.2 392.4,2027.7 395.4,2037.3 398.4,2033.5 401.4,2037.8 404.3,2031.3 407.3,2041.3 410.2,2031.3 413.2,2040.5 416.1,2033.2 419.0,2043.0 421.9,2037.9 424.8,2044.7 427.6,2040.8 430.5,2049.7 433.3,2040.3 436.2,2040.0 439.0,2043.0 441.8,2050.0 444.6,2040.3 447.4,2050.0 450.1,2050.0 452.9,2057.6 455.7,2042.7 458.4,2056.0 461.1,2049.5 463.8,2054.8 466.5,2050.7 469.2,2059.3 471.9,2052.6 474.6,2058.6 477.2,2051.2 479.9,2058.6 482.5,2054.0 485.1,2059.5 487.8,2058.9 490.4,2063.5 493.0,2056.9 495.5,2062.8 498.1,2065.8 500.7,2068.3 503.2,2063.3 505.7,2074.4 508.3,2063.1 510.8,2068.2 513.3,2065.0 515.8,2068.1 518.3,2068.1 520.8,2072.5 523.2,2071.8 525.7,2074.0 528.1,2073.4 530.6,2078.5 533.0,2075.6 535.4,2077.9 537.9,2075.0 540.3,2081.4 542.7,2078.5 545.1,2089.6 547.4,2085.3 549.8,2089.1 552.2,2087.2 554.5,2090.5 556.9,2085.9 559.2,2094.2 561.6,2091.6 563.9,2096.9 566.2,2092.7 568.5,2100.0 570.8,2097.7 573.1,2101.2 575.4,2099.5 577.7,2105.7 579.9,2103.7 582.2,2107.5 584.5,2104.8 586.7,2113.4 588.9,2107.9 591.2,2114.7 593.4,2111.0 595.6,2117.1 597.8,2115.2 600.0,2121.6 602.2,2119.1 604.4,2124.1 606.6,2120.9 608.7,2125.6 610.9,2122.4 613.0,2128.9 615.2,2127.5 617.3,2134.3 619.4,2128.4 621.6,2133.9 623.7,2133.4 625.8,2137.8 625.8,2136.6 627.9,2138.3 629.8,2135.2 630.0,2140.3 632.1,2141.3 634.1,2145.4 636.2,2146.9 638.3,2150.6 640.3,2151.4 642.4,2155.5 644.4,2156.9 646.5,2159.4 648.5,2160.9 650.5,2164.5 652.5,2163.4 654.5,2168.9 656.5,2165.7 658.5,2170.5 660.5,2167.8 662.5,2172.3 664.5,2170.6 666.5,2173.5 668.5,2172.9 670.5,2173.7 672.5,2173.3 674.5,2175.4 676.5,2175.2 678.5,2177.8 680.5,2177.3 682.5,2178.1 684.5,2176.9 686.5,2178.3 688.5,2178.3 690.5,2179.9 692.5,2178.7 694.5,2181.2 696.5,2179.8 698.5,2181.0 700.5,2179.8 702.5,2182.0 704.5,2180.6 706.5,2183.1 708.5,2180.9 710.5,2183.3 712.5,2183.0 714.5,2183.3 716.5,2182.3 718.5,2184.3 720.5,2183.8 722.5,2185.1 724.5,2183.9 726.5,2186.0 728.5,2185.0 730.5,2185.1 732.5,2186.2 732.9,2186.2 734.5,2184.1 735.9,2183.5 736.5,2183.7 738.5,2186.1 738.9,2186.9 740.5,2187.8 742.5,2187.0 744.5,2188.2 746.5,2188.2 748.5,2190.3 750.5,2188.6 752.5,2190.1 754.5,2190.5 756.5,2191.6 758.5,2191.3 760.5,2192.0 762.5,2191.4 764.5,2192.6 766.5,2192.6 768.5,2193.8 770.5,2193.0 772.5,2194.4 774.5,2194.6 776.5,2194.9 778.5,2195.3 780.5,2195.6 782.5,2195.3 784.5,2196.5 786.5,2195.9 788.5,2197.0 790.5,2196.2 792.5,2197.5 794.5,2197.4 796.5,2197.9 798.5,2197.5 800.0,2198.1 800.5,2197.8 801.6,2198.5 803.2,2198.1 804.8,2198.9 806.4,2198.4 808.0,2199.1 809.6,2198.9 811.2,2199.5 812.8,2198.8 814.4,2199.2 816.0,2199.1 817.6,2198.9 819.2,2199.1 820.8,2199.1 822.4,2198.8 824.0,2198.8 825.6,2198.5 827.2,2198.5 828.8,2198.2 830.4,2198.0 832.0,2197.8 833.6,2198.2 835.2,2197.7 836.8,2198.1 838.4,2197.4 840.0,2197.8 841.6,2197.4 843.2,2197.3 844.8,2197.3 846.4,2197.3 846.9,2196.6 848.0,2195.8 849.6,2193.7 849.9,2193.6 851.2,2195.0 852.8,2197.7 852.9,2197.3 854.4,2197.8 855.9,2197.4 856.0,2197.4 857.6,2197.1 859.2,2196.9 860.8,2196.5 862.4,2196.8 864.0,2196.2 865.6,2196.2 867.2,2196.0 868.8,2196.2 870.4,2195.3 872.0,2195.5 873.6,2195.1 875.2,2195.1 876.8,2194.7 878.4,2194.7 880.0,2194.2 881.6,2194.1 883.2,2193.4 884.8,2193.8 886.4,2192.9 888.0,2192.9 889.6,2192.4 891.2,2192.3 892.8,2192.0 894.4,2192.0 896.0,2191.5 897.6,2191.6 899.2,2191.0 900.8,2190.9 902.4,2190.5 904.0,2190.3 905.6,2190.1 907.2,2190.0 908.8,2189.7 910.4,2189.6 912.0,2189.0 913.6,2188.9 915.2,2188.6 916.8,2188.5 918.4,2188.0 920.0,2188.2 921.6,2187.6 923.2,2187.6 924.8,2187.3 926.4,2187.1 928.0,2186.9 929.6,2186.8 931.2,2186.6 932.8,2186.5 934.4,2186.4 936.0,2186.4 937.6,2186.2 939.2,2186.2 940.8,2186.0 942.4,2186.0 944.0,2185.5 945.6,2185.5 947.2,2185.1 948.8,2185.4 950.4,2184.9 952.0,2185.0 953.6,2184.7 955.2,2184.8 956.8,2184.5 958.4,2184.8 960.0,2184.4 961.6,2184.5 963.2,2184.2 964.8,2184.4 966.4,2184.4 968.0,2184.6 969.6,2184.6 971.2,2184.7 972.8,2184.6 974.4,2184.9 976.0,2184.8 977.6,2185.5 979.2,2185.6 980.8,2186.3 982.4,2186.6 984.0,2187.1 985.6,2187.4 987.2,2188.4 988.8,2189.0 990.4,2190.1 992.0,2190.9 993.6,2191.7 995.2,2192.5 996.8,2193.5 998.4,2194.3 1000.0,2195.3 1001.6,2196.1 1003.2,2197.3 1004.8,2198.2 1006.0,2199.1 1006.4,2199.0 1008.0,2199.9 1008.4,2199.8 1009.6,2198.8 1010.0,2198.3 1011.2,2200.7 1012.0,2201.9 1012.8,2202.7 1014.4,2203.6 1016.0,2205.0 1017.6,2206.1 1019.2,2207.5 1020.8,2208.2 1022.4,2209.3 1024.0,2210.0 1025.6,2210.9 1027.2,2211.6 1028.8,2212.4 1030.4,2213.1 1032.0,2213.7 1033.6,2214.1 1035.2,2215.1 1036.8,2215.6 1038.4,2216.2 1040.0,2216.7 1041.6,2217.5 1043.2,2217.7 1044.8,2218.3 1046.4,2218.4 1048.0,2218.9 1049.6,2219.2 1051.2,2219.5 1052.8,2219.9 1054.4,2220.1 1056.0,2220.2 1057.6,2220.5 1059.2,2220.4 1060.8,2220.8 1062.4,2220.7 1064.0,2221.3 1065.6,2221.3 1067.2,2221.6 1068.8,2221.6 1070.4,2221.8 1072.0,2221.8 1073.6,2222.1 1075.2,2222.1 1076.8,2222.2 1078.4,2222.3 1080.0,2222.5 1081.6,2222.4 1083.2,2222.7 1084.8,2222.6 1086.4,2222.7 1088.0,2222.8 1089.6,2222.9 1091.2,2222.9 1092.8,2222.9 1094.4,2222.9 1096.0,2223.0 1097.6,2222.8 1099.2,2223.2 1100.8,2222.9 1102.4,2223.1 1104.0,2223.0 1105.6,2223.1 1107.2,2223.0 1108.8,2223.2 1110.4,2223.1 1112.0,2223.1 1113.6,2223.0 1115.2,2223.1 1116.8,2222.9 1118.4,2223.2 1120.0,2223.1 1121.6,2223.3 1123.2,2223.0 1124.8,2223.3 1126.4,2223.0 1128.0,2223.2 1129.6,2223.0 1131.2,2223.3 1132.8,2223.0 1134.4,2223.3 1136.0,2222.9 1137.6,2223.2 1139.2,2223.0 1140.8,2223.3 1142.4,2223.1 1144.0,2223.3 1145.6,2223.2 1147.2,2223.1 1148.8,2223.2 1150.4,2223.2 1152.0,2223.1 1153.6,2223.1 1155.2,2223.1 1156.8,2223.1 1158.4,2223.0 1160.0,2223.1 1161.6,2223.1 1163.2,2223.2 1164.8,2223.1 1166.4,2223.2 1168.0,2223.1 1169.6,2223.2 1171.2,2223.1 1172.8,2223.3 1174.4,2223.2 1176.0,2223.2 1177.6,2223.0 1179.2,2223.2 1180.8,2223.1 1182.4,2223.3 1184.0,2223.1 1185.6,2223.2 1187.2,2223.1 1188.8,2223.2 1190.4,2223.0 1192.0,2223.2 1193.6,2223.0 1195.2,2223.3 1196.8,2223.2 1198.4,2223.1 1200.0,2223.2 1201.6,2223.1 1203.2,2223.2 1204.8,2223.2 1206.4,2223.2 1208.0,2223.1 1209.6,2223.1 1211.2,2223.3 1212.8,2223.2 1214.4,2223.2 1216.0,2223.0 1217.6,2223.3 1219.2,2223.1 1220.8,2223.2 1222.4,2223.1 1224.0,2223.2 1225.6,2223.1 1227.2,2223.2 1228.8,2223.0 1230.4,2223.2 1232.0,2223.0 1233.6,2223.2 1235.2,2223.1 1236.8,2223.2 1238.4,2223.1 1240.0,2223.1 1241.6,2223.1 1243.2,2223.3 1244.8,2223.0 1246.4,2223.3 1248.0,2223.0 1249.6,2223.2 1251.2,2223.1 1252.8,2223.2 1254.4,2223.0 1256.0,2223.2 1257.6,2223.0 1259.2,2223.2 1260.8,2223.0 1262.4,2223.3 1264.0,2223.0 1265.6,2223.2 1267.2,2223.1 1268.8,2223.1 1270.4,2223.1 1272.0,2223.1 1273.6,2223.0 1275.2,2223.1 1276.8,2223.1 1278.4,2223.1 1280.0,2223.1 1281.6,2223.3 1283.2,2223.0 1284.8,2223.2 1286.4,2223.0 1288.0,2223.0 1289.6,2223.0 1291.2,2223.1 1292.8,2223.0 1294.4,2223.0 1296.0,2223.0 1297.6,2223.1 1299.2,2223.0 1300.8,2223.1 1302.4,2222.9 1304.0,2223.1 1304.8,2222.9" stroke="#98b954" stroke-width="5.5" fill="none" stroke-linejoin="round" stroke-linecap="round"/>
<path d="M371.0,2007.2 372.4,1997.5 374.0,2012.5 374.1,2010.0 377.2,2012.8 380.2,2005.3 383.3,2013.1 386.3,2007.9 389.4,2011.9 392.4,2014.8 395.4,2018.7 398.4,2015.6 401.4,2025.4 404.3,2019.8 407.3,2026.7 410.2,2016.1 413.2,2025.4 416.1,2017.9 419.0,2028.1 421.9,2024.4 424.8,2025.2 427.6,2025.1 430.5,2032.1 433.3,2023.6 436.2,2023.8 439.0,2017.0 441.8,2026.0 444.6,2027.3 447.4,2037.9 450.1,2032.0 452.9,2034.8 455.7,2030.7 458.4,2037.2 461.1,2026.1 463.8,2037.9 466.5,2037.7 469.2,2040.3 471.9,2034.3 474.6,2040.2 477.2,2034.4 479.9,2041.8 482.5,2039.2 485.1,2044.6 487.8,2040.1 490.4,2048.2 493.0,2046.9 495.5,2044.6 498.1,2041.5 500.7,2051.5 503.2,2045.8 505.7,2053.4 508.3,2049.3 510.8,2052.4 513.3,2049.9 515.8,2056.4 518.3,2051.5 520.8,2056.2 523.2,2058.0 525.7,2058.2 528.1,2056.6 530.6,2060.5 533.0,2056.9 535.4,2065.2 537.9,2061.9 540.3,2066.2 542.7,2065.6 545.1,2070.8 547.4,2068.4 549.8,2073.2 552.2,2072.0 554.5,2072.1 556.9,2070.7 559.2,2076.5 561.6,2076.1 563.9,2079.4 566.2,2076.0 568.5,2083.1 570.8,2079.6 573.1,2088.2 575.4,2085.4 577.7,2087.2 579.9,2086.0 582.2,2089.0 584.5,2091.4 586.7,2096.7 588.9,2093.2 591.2,2095.6 593.4,2097.3 595.6,2101.7 597.8,2099.0 600.0,2104.6 602.2,2103.4 604.4,2105.7 606.6,2106.7 608.7,2108.6 610.9,2110.3 613.0,2114.2 615.2,2112.1 617.3,2115.1 619.4,2113.7 621.6,2117.5 623.7,2120.6 625.8,2125.2 627.9,2125.4 630.0,2128.4 632.1,2126.9 634.1,2131.4 636.2,2128.8 638.3,2134.6 640.3,2134.3 642.4,2137.9 643.8,2139.4 644.4,2140.9 646.5,2139.0 647.8,2142.2 648.5,2141.4 650.5,2146.8 652.5,2146.1 654.5,2150.8 656.5,2147.9 658.5,2154.6 660.5,2153.2 662.5,2156.6 664.5,2155.0 666.5,2158.2 668.5,2155.2 670.5,2158.0 672.5,2156.2 674.5,2159.8 676.5,2159.6 678.5,2160.3 680.5,2160.8 682.5,2161.5 684.5,2161.7 686.5,2162.8 688.5,2162.5 690.5,2163.9 692.5,2162.4 694.5,2164.7 696.5,2163.0 698.5,2164.6 700.5,2163.8 702.5,2167.2 704.5,2165.4 706.5,2167.4 708.5,2166.2 710.5,2167.3 712.5,2166.5 714.5,2168.6 716.5,2168.4 718.5,2169.0 720.5,2169.3 722.5,2170.6 724.5,2169.2 726.5,2170.9 728.5,2170.7 730.5,2172.9 732.5,2171.1 734.5,2173.1 736.5,2171.6 738.5,2174.3 740.5,2173.6 742.5,2175.0 744.5,2174.1 746.5,2175.6 748.5,2175.6 750.5,2176.1 752.5,2176.0 754.5,2176.9 756.5,2177.2 758.5,2177.9 760.5,2177.3 762.5,2178.5 764.5,2178.2 766.5,2179.8 768.5,2179.6 770.5,2180.5 772.5,2180.1 774.5,2181.1 776.5,2180.7 778.5,2182.0 780.5,2182.0 782.5,2182.9 784.5,2182.4 786.5,2183.8 788.5,2183.2 790.5,2183.9 792.5,2183.6 794.5,2184.4 796.5,2184.3 798.5,2185.1 800.0,2184.6 800.5,2185.1 801.6,2185.1 803.2,2185.4 804.8,2185.2 806.4,2186.0 808.0,2185.6 809.6,2185.9 811.2,2185.9 812.8,2186.2 814.4,2185.6 816.0,2186.4 817.6,2186.1 819.2,2186.4 820.8,2186.0 822.4,2186.2 824.0,2186.2 825.6,2186.4 827.2,2186.1 828.8,2186.9 830.4,2186.1 832.0,2186.5 833.6,2185.8 835.2,2185.9 836.8,2185.1 838.4,2185.2 840.0,2184.7 841.6,2185.0 843.2,2184.3 844.8,2184.3 846.4,2184.1 846.9,2184.2 848.0,2182.5 849.6,2181.1 849.9,2180.1 851.2,2182.1 852.8,2183.4 852.9,2183.7 854.4,2183.7 855.9,2184.1 856.0,2183.6 857.6,2183.3 859.2,2182.2 860.8,2182.5 862.4,2181.4 864.0,2180.9 865.6,2180.6 867.2,2180.4 868.8,2179.8 870.4,2179.8 872.0,2179.4 873.6,2179.2 875.2,2178.6 876.8,2178.8 878.4,2178.1 880.0,2178.1 881.6,2177.3 883.2,2177.0 884.8,2176.2 886.4,2176.1 888.0,2175.5 889.6,2175.0 891.2,2174.5 892.8,2174.3 894.4,2173.4 896.0,2173.2 897.6,2172.6 899.2,2172.2 900.8,2171.6 902.4,2171.4 904.0,2170.7 905.6,2170.4 907.2,2169.9 908.8,2169.6 910.4,2168.8 912.0,2168.5 913.6,2168.0 915.2,2167.7 916.8,2167.1 918.4,2166.9 920.0,2166.2 921.6,2166.0 923.2,2165.6 924.8,2165.3 926.4,2164.8 928.0,2164.7 929.6,2164.2 931.2,2163.7 932.8,2163.4 934.4,2163.8 936.0,2163.5 937.6,2163.5 939.2,2163.2 940.8,2163.1 942.4,2162.8 944.0,2162.7 945.6,2162.3 947.2,2162.4 948.8,2161.9 950.4,2162.1 952.0,2161.4 953.6,2161.5 954.0,2161.3 955.2,2159.8 956.8,2157.1 957.0,2156.9 958.4,2158.5 960.0,2160.7 960.0,2160.4 961.6,2160.5 963.2,2160.0 964.8,2160.2 966.4,2159.5 968.0,2159.5 969.6,2159.2 971.2,2159.5 972.8,2159.3 974.4,2159.5 976.0,2159.3 977.6,2159.4 979.2,2159.3 980.8,2159.6 982.4,2159.6 984.0,2160.2 985.6,2160.4 987.2,2160.8 988.8,2161.2 990.4,2161.6 992.0,2162.0 993.6,2162.7 995.2,2163.3 996.8,2163.9 998.4,2164.2 1000.0,2165.1 1001.6,2165.9 1003.2,2167.1 1004.8,2167.9 1006.4,2168.8 1008.0,2169.9 1009.6,2170.8 1011.2,2171.9 1012.8,2173.5 1014.4,2174.5 1016.0,2176.1 1017.6,2177.0 1019.2,2178.4 1020.8,2179.5 1022.4,2181.4 1024.0,2182.6 1025.6,2184.1 1027.2,2185.5 1028.8,2187.0 1030.4,2188.2 1032.0,2189.7 1033.6,2190.8 1035.2,2192.4 1036.8,2193.5 1038.4,2195.2 1040.0,2196.3 1041.6,2197.7 1043.2,2198.6 1044.8,2200.2 1046.4,2201.1 1048.0,2202.4 1049.6,2203.6 1049.9,2204.0 1051.2,2204.1 1052.8,2204.4 1052.9,2204.3 1054.4,2206.3 1055.9,2208.3 1056.0,2208.5 1057.6,2209.0 1059.2,2210.0 1060.8,2210.6 1062.4,2211.4 1064.0,2212.1 1065.6,2212.9 1067.2,2213.4 1068.8,2214.2 1070.4,2214.6 1072.0,2215.3 1073.6,2215.8 1075.2,2216.5 1076.8,2217.0 1078.4,2217.7 1080.0,2218.0 1081.6,2218.6 1083.2,2218.8 1084.8,2219.3 1086.4,2219.7 1088.0,2220.1 1089.6,2220.5 1091.2,2220.9 1092.8,2221.0 1094.4,2221.1 1096.0,2221.3 1097.6,2221.8 1099.2,2221.8 1100.8,2222.2 1102.4,2222.1 1104.0,2222.6 1105.6,2222.7 1107.2,2222.8 1108.8,2222.9 1110.4,2223.3 1112.0,2223.1 1113.6,2223.4 1115.2,2223.5 1116.8,2223.6 1118.4,2223.7 1120.0,2224.1 1121.6,2224.0 1123.2,2224.2 1124.8,2224.0 1126.4,2224.3 1128.0,2224.1 1129.6,2224.4 1131.2,2224.5 1132.8,2224.6 1134.4,2224.4 1136.0,2224.8 1137.6,2224.7 1139.2,2224.9 1140.8,2224.8 1142.4,2225.2 1144.0,2225.0 1145.6,2225.1 1147.2,2225.0 1148.8,2225.3 1150.4,2225.0 1152.0,2225.1 1153.6,2225.1 1155.2,2225.3 1156.8,2225.1 1158.4,2225.3 1160.0,2225.0 1161.6,2225.3 1163.2,2225.3 1164.8,2225.3 1166.4,2225.3 1168.0,2225.4 1169.6,2225.4 1171.2,2225.5 1172.8,2225.4 1174.4,2225.5 1176.0,2225.3 1177.6,2225.5 1179.2,2225.5 1180.8,2225.6 1182.4,2225.5 1184.0,2225.7 1185.6,2225.5 1187.2,2225.7 1188.8,2225.6 1190.4,2225.8 1192.0,2225.6 1193.6,2225.8 1195.2,2225.6 1196.8,2225.8 1198.4,2225.6 1200.0,2225.9 1201.6,2225.6 1203.2,2225.9 1204.8,2225.7 1206.4,2226.0 1208.0,2225.7 1209.6,2226.0 1211.2,2225.7 1212.8,2225.8 1214.4,2225.8 1216.0,2226.0 1217.6,2225.9 1219.2,2226.0 1220.8,2225.9 1222.4,2226.1 1224.0,2225.8 1225.6,2226.0 1227.2,2225.9 1228.8,2225.9 1230.4,2225.9 1232.0,2226.0 1233.6,2226.0 1235.2,2226.0 1236.8,2226.0 1238.4,2226.0 1240.0,2225.9 1241.6,2226.1 1243.2,2226.1 1244.8,2226.1 1246.4,2226.0 1248.0,2226.1 1249.6,2226.1 1251.2,2226.2 1252.8,2226.0 1254.4,2226.2 1256.0,2226.1 1257.6,2226.2 1259.2,2226.1 1260.8,2226.2 1262.4,2226.2 1264.0,2226.2 1265.6,2226.0 1267.2,2226.2 1268.8,2226.1 1270.4,2226.1 1272.0,2225.9 1273.6,2226.0 1275.2,2225.9 1276.8,2226.0 1278.4,2225.8 1280.0,2225.9 1281.6,2225.7 1283.2,2225.8 1284.8,2225.8 1286.4,2225.8 1288.0,2225.6 1289.6,2225.8 1291.2,2225.5 1292.8,2225.8 1294.4,2225.5 1296.0,2225.6 1297.6,2225.4 1299.2,2225.5 1300.8,2225.3 1302.4,2225.5 1304.0,2225.4 1305.6,2225.5 1307.2,2225.4 1308.8,2225.7 1310.4,2225.7 1312.0,2225.9 1313.6,2225.9 1315.2,2226.2 1316.8,2226.1 1318.4,2226.1 1320.0,2226.2 1321.6,2226.3 1323.2,2226.4 1324.8,2226.7 1326.4,2226.6 1328.0,2226.7 1329.6,2226.6 1331.2,2226.9 1332.8,2226.9 1334.4,2227.1 1336.0,2227.1 1337.6,2227.1 1339.2,2227.3 1340.8,2227.5 1342.4,2227.4 1344.0,2227.6 1345.6,2227.6 1347.2,2227.7 1348.8,2227.8 1350.4,2228.0 1352.0,2228.0 1353.6,2228.1 1355.2,2228.1 1356.8,2228.3 1358.4,2228.3 1360.0,2228.4 1361.2,2228.4" stroke="#7d60a0" stroke-width="5.5" fill="none" stroke-linejoin="round" stroke-linecap="round"/>
</g>
<text id="c2y0" x="347.3" y="1743.6" font-size="23.20" text-anchor="end" textLength="33.80" lengthAdjust="spacingAndGlyphs" fill="#000">-20</text>
<text id="c2y1" x="347.3" y="1781.0" font-size="23.20" text-anchor="end" textLength="33.80" lengthAdjust="spacingAndGlyphs" fill="#000">-30</text>
<text id="c2y2" x="347.3" y="1818.5" font-size="23.20" text-anchor="end" textLength="33.80" lengthAdjust="spacingAndGlyphs" fill="#000">-40</text>
<text id="c2y3" x="347.3" y="1855.9" font-size="23.20" text-anchor="end" textLength="33.80" lengthAdjust="spacingAndGlyphs" fill="#000">-50</text>
<text id="c2y4" x="347.3" y="1893.3" font-size="23.20" text-anchor="end" textLength="33.80" lengthAdjust="spacingAndGlyphs" fill="#000">-60</text>
<text id="c2y5" x="347.3" y="1930.7" font-size="23.20" text-anchor="end" textLength="33.80" lengthAdjust="spacingAndGlyphs" fill="#000">-70</text>
<text id="c2y6" x="347.3" y="1968.2" font-size="23.20" text-anchor="end" textLength="33.80" lengthAdjust="spacingAndGlyphs" fill="#000">-80</text>
<text id="c2y7" x="347.3" y="2005.6" font-size="23.20" text-anchor="end" textLength="33.80" lengthAdjust="spacingAndGlyphs" fill="#000">-90</text>
<text id="c2y8" x="347.3" y="2043.0" font-size="23.20" text-anchor="end" textLength="47.00" lengthAdjust="spacingAndGlyphs" fill="#000">-100</text>
<text id="c2y9" x="347.3" y="2080.4" font-size="23.20" text-anchor="end" textLength="47.00" lengthAdjust="spacingAndGlyphs" fill="#000">-110</text>
<text id="c2y10" x="347.3" y="2117.9" font-size="23.20" text-anchor="end" textLength="47.00" lengthAdjust="spacingAndGlyphs" fill="#000">-120</text>
<text id="c2y11" x="347.3" y="2155.3" font-size="23.20" text-anchor="end" textLength="47.00" lengthAdjust="spacingAndGlyphs" fill="#000">-130</text>
<text id="c2y12" x="347.3" y="2192.7" font-size="23.20" text-anchor="end" textLength="47.00" lengthAdjust="spacingAndGlyphs" fill="#000">-140</text>
<text id="c2y13" x="347.3" y="2230.1" font-size="23.20" text-anchor="end" textLength="47.00" lengthAdjust="spacingAndGlyphs" fill="#000">-150</text>
<text id="c2y14" x="347.3" y="2267.6" font-size="23.20" text-anchor="end" textLength="47.00" lengthAdjust="spacingAndGlyphs" fill="#000">-160</text>
<text id="c2y15" x="347.3" y="2305.0" font-size="23.20" text-anchor="end" textLength="47.00" lengthAdjust="spacingAndGlyphs" fill="#000">-170</text>
<text id="c2x0" x="369.9" y="2334.2" font-size="24.40" text-anchor="middle" textLength="68.00" lengthAdjust="spacingAndGlyphs" fill="#000">1.E+01</text>
<text id="c2x1" x="511.5" y="2334.2" font-size="24.40" text-anchor="middle" textLength="68.00" lengthAdjust="spacingAndGlyphs" fill="#000">1.E+02</text>
<text id="c2x2" x="653.2" y="2334.2" font-size="24.40" text-anchor="middle" textLength="68.00" lengthAdjust="spacingAndGlyphs" fill="#000">1.E+03</text>
<text id="c2x3" x="794.8" y="2334.2" font-size="24.40" text-anchor="middle" textLength="68.00" lengthAdjust="spacingAndGlyphs" fill="#000">1.E+04</text>
<text id="c2x4" x="936.4" y="2334.2" font-size="24.40" text-anchor="middle" textLength="68.00" lengthAdjust="spacingAndGlyphs" fill="#000">1.E+05</text>
<text id="c2x5" x="1078.0" y="2334.2" font-size="24.40" text-anchor="middle" textLength="68.00" lengthAdjust="spacingAndGlyphs" fill="#000">1.E+06</text>
<text id="c2x6" x="1219.7" y="2334.2" font-size="24.40" text-anchor="middle" textLength="68.00" lengthAdjust="spacingAndGlyphs" fill="#000">1.E+07</text>
<text id="c2x7" x="1361.3" y="2334.2" font-size="24.40" text-anchor="middle" textLength="68.00" lengthAdjust="spacingAndGlyphs" fill="#000">1.E+08</text>
<text id="c2at" x="864.6" y="2370.0" font-size="21.60" text-anchor="middle" font-weight="bold" textLength="222.60" lengthAdjust="spacingAndGlyphs" fill="#000">L(f) [dBc/Hz]vs. f [Hz]</text>
<text id="c2title" x="945.4" y="1690.5" font-size="39.30" text-anchor="middle" font-weight="bold" textLength="536.00" lengthAdjust="spacingAndGlyphs" fill="#000">Single sideband phase noise</text>
<path d="M1436.6,1957.0H1485.4" stroke="#4a7ebb" stroke-width="5.5" stroke-linecap="round"/>
<text id="c2l0" x="1490.3" y="1964.6" font-size="22.30" textLength="80.20" lengthAdjust="spacingAndGlyphs" fill="#000">60 MHz</text>
<path d="M1436.6,2022.9H1485.4" stroke="#be4b48" stroke-width="5.5" stroke-linecap="round"/>
<text id="c2l1" x="1490.3" y="2030.5" font-size="22.30" textLength="93.20" lengthAdjust="spacingAndGlyphs" fill="#000">150 MHz</text>
<path d="M1436.6,2088.8H1485.4" stroke="#98b954" stroke-width="5.5" stroke-linecap="round"/>
<text id="c2l2" x="1490.3" y="2096.4" font-size="22.30" textLength="93.20" lengthAdjust="spacingAndGlyphs" fill="#000">250 MHz</text>
<path d="M1436.6,2154.7H1485.4" stroke="#7d60a0" stroke-width="5.5" stroke-linecap="round"/>
<text id="c2l3" x="1490.3" y="2162.3" font-size="22.30" textLength="93.20" lengthAdjust="spacingAndGlyphs" fill="#000">400 MHz</text>
</g>
<text id="cap1" y="1564.3" font-size="24.70" class="b"><tspan x="734.0" letter-spacing="0.78">Phase </tspan><tspan x="814.6" letter-spacing="0.72">Noise </tspan><tspan x="887.9" letter-spacing="0.58">Optimization: </tspan><tspan x="1046.0">&lt;</tspan><tspan x="1062.6" letter-spacing="-0.20">200 </tspan><tspan x="1111.9" letter-spacing="1.92">kHz</tspan></text>
<text id="meas1" x="1530.4" y="1564.0" font-size="24.70" textLength="82.00" lengthAdjust="spacing" class="b">(meas)</text>
<text id="cap2" y="2451.9" font-size="24.70" class="b"><tspan x="734.0" letter-spacing="0.78">Phase </tspan><tspan x="814.6" letter-spacing="0.72">Noise </tspan><tspan x="887.9" letter-spacing="0.58">Optimization: </tspan><tspan x="1046.0">&gt;</tspan><tspan x="1062.6" letter-spacing="-0.20">300 </tspan><tspan x="1111.9" letter-spacing="1.92">kHz</tspan></text>
<text id="meas2" x="1523.4" y="2451.7" font-size="24.70" textLength="82.00" lengthAdjust="spacing" class="b">(meas)</text>
<text id="pg" x="74.0" y="2491.4" font-size="32.60" textLength="36.40" lengthAdjust="spacing" class="b">10</text>
<text id="ds" y="2491.3" font-size="18.60" font-weight="bold" fill="#6d6e71"><tspan x="129.4" letter-spacing="0.45">Data </tspan><tspan x="177.6" letter-spacing="0.48">Sheet</tspan></text>
<rect x="236.6" y="2472.3" width="6.5" height="20.0" fill="#1db36b"/>
<text id="mg" y="2491.3" font-size="24.40" font-weight="bold" fill="#6d6e71"><tspan x="248.7" letter-spacing="1.38">MG</tspan><tspan x="290.7" letter-spacing="-0.77">3740</tspan><tspan x="346.5">A</tspan></text>
</svg></body></html>
